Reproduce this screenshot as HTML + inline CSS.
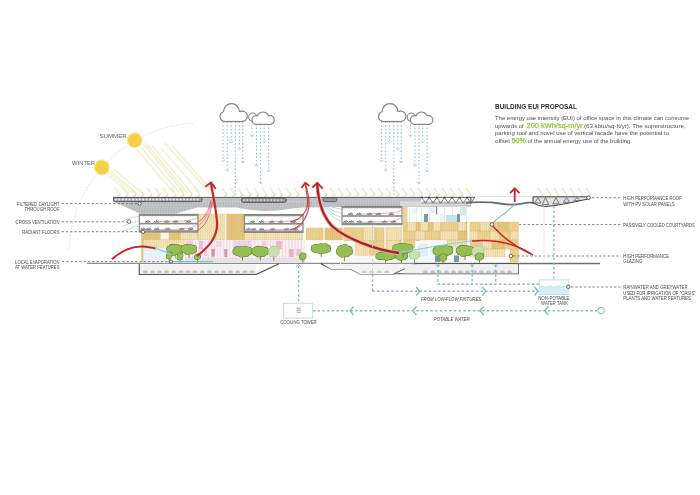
<!DOCTYPE html>
<html><head><meta charset="utf-8"><style>
html,body{margin:0;padding:0;background:#fff;}
svg{display:block;font-family:"Liberation Sans",sans-serif;will-change:transform;}
</style></head><body>
<svg width="700" height="495" viewBox="0 0 700 495">
<rect width="700" height="495" fill="#fff"/>
<path d="M 69 249 A 132 132 0 0 1 193 123.2" fill="none" stroke="#cfcfcf" stroke-width="0.7" stroke-dasharray="1.6 1.6"/>
<line x1="137.1" y1="149.7" x2="173.8" y2="193.0" stroke="#f8f8e8" stroke-width="2.0"/>
<line x1="140.5" y1="147.0" x2="179.5" y2="193.0" stroke="#f8f8e8" stroke-width="2.0"/>
<line x1="143.1" y1="143.7" x2="184.2" y2="193.0" stroke="#f8f8e8" stroke-width="2.0"/>
<line x1="145.9" y1="143.2" x2="187.4" y2="193.0" stroke="#f8f8e8" stroke-width="2.0"/>
<line x1="152.0" y1="146.0" x2="191.8" y2="193.0" stroke="#f8f8e8" stroke-width="2.0"/>
<line x1="161.1" y1="148.0" x2="200.2" y2="193.0" stroke="#f8f8e8" stroke-width="2.0"/>
<line x1="164.6" y1="142.9" x2="210.1" y2="193.0" stroke="#f8f8e8" stroke-width="2.0"/>
<line x1="172.0" y1="146.0" x2="214.0" y2="193.0" stroke="#f8f8e8" stroke-width="2.0"/>
<line x1="105.3" y1="172.9" x2="128.9" y2="193.0" stroke="#f8f8e8" stroke-width="2.0"/>
<line x1="108.0" y1="172.0" x2="132.7" y2="193.0" stroke="#f8f8e8" stroke-width="2.0"/>
<line x1="110.4" y1="171.1" x2="136.2" y2="193.0" stroke="#f8f8e8" stroke-width="2.0"/>
<line x1="113.5" y1="169.0" x2="141.7" y2="193.0" stroke="#f8f8e8" stroke-width="2.0"/>
<line x1="137.1" y1="149.7" x2="173.8" y2="193.0" stroke="#ecedc0" stroke-width="0.8"/>
<line x1="140.5" y1="147.0" x2="179.5" y2="193.0" stroke="#ecedc0" stroke-width="0.8"/>
<line x1="143.1" y1="143.7" x2="184.2" y2="193.0" stroke="#ecedc0" stroke-width="0.8"/>
<line x1="145.9" y1="143.2" x2="187.4" y2="193.0" stroke="#ecedc0" stroke-width="0.8"/>
<line x1="152.0" y1="146.0" x2="191.8" y2="193.0" stroke="#ecedc0" stroke-width="0.8"/>
<line x1="161.1" y1="148.0" x2="200.2" y2="193.0" stroke="#ecedc0" stroke-width="0.8"/>
<line x1="164.6" y1="142.9" x2="210.1" y2="193.0" stroke="#ecedc0" stroke-width="0.8"/>
<line x1="172.0" y1="146.0" x2="214.0" y2="193.0" stroke="#ecedc0" stroke-width="0.8"/>
<line x1="105.3" y1="172.9" x2="128.9" y2="193.0" stroke="#ecedc0" stroke-width="0.8"/>
<line x1="108.0" y1="172.0" x2="132.7" y2="193.0" stroke="#ecedc0" stroke-width="0.8"/>
<line x1="110.4" y1="171.1" x2="136.2" y2="193.0" stroke="#ecedc0" stroke-width="0.8"/>
<line x1="113.5" y1="169.0" x2="141.7" y2="193.0" stroke="#ecedc0" stroke-width="0.8"/>
<circle cx="134.7" cy="140.3" r="8.2" fill="#f9ebb0"/>
<circle cx="101.9" cy="167.4" r="8.2" fill="#f9ebb0"/>
<circle cx="134.7" cy="140.3" r="6.9" fill="#f4cf48"/>
<circle cx="101.9" cy="167.4" r="6.9" fill="#f4cf48"/>
<text x="126.8" y="138.3" font-size="6.1" text-anchor="end" fill="#6a6a6a" font-weight="normal" font-style="normal" textLength="27.4" lengthAdjust="spacingAndGlyphs">SUMMER</text>
<text x="95.1" y="164.5" font-size="6.1" text-anchor="end" fill="#6a6a6a" font-weight="normal" font-style="normal" textLength="23.1" lengthAdjust="spacingAndGlyphs">WINTER</text>
<line x1="223.1" y1="121.5" x2="223.1" y2="161.7" stroke="#90c8d0" stroke-width="1.1" stroke-dasharray="1.6 2.0"/>
<path d="M 221.3 159.9 L 223.1 161.7 L 224.9 159.9" fill="none" stroke="#90c8d0" stroke-width="0.8"/>
<line x1="227.2" y1="121.5" x2="227.2" y2="171.4" stroke="#90c8d0" stroke-width="1.1" stroke-dasharray="1.6 2.0"/>
<path d="M 225.4 169.6 L 227.2 171.4 L 229.0 169.6" fill="none" stroke="#90c8d0" stroke-width="0.8"/>
<line x1="231.2" y1="121.5" x2="231.2" y2="143.0" stroke="#90c8d0" stroke-width="1.1" stroke-dasharray="1.6 2.0"/>
<path d="M 229.4 141.2 L 231.2 143.0 L 233.0 141.2" fill="none" stroke="#90c8d0" stroke-width="0.8"/>
<line x1="235.3" y1="121.5" x2="235.3" y2="196.5" stroke="#90c8d0" stroke-width="1.1" stroke-dasharray="1.6 2.0"/>
<path d="M 233.5 182.0 L 235.3 183.8 L 237.1 182.0" fill="none" stroke="#90c8d0" stroke-width="0.8"/>
<line x1="239.3" y1="121.5" x2="239.3" y2="150.0" stroke="#90c8d0" stroke-width="1.1" stroke-dasharray="1.6 2.0"/>
<path d="M 237.5 148.2 L 239.3 150.0 L 241.1 148.2" fill="none" stroke="#90c8d0" stroke-width="0.8"/>
<line x1="242.7" y1="121.5" x2="242.7" y2="162.7" stroke="#90c8d0" stroke-width="1.1" stroke-dasharray="1.6 2.0"/>
<path d="M 240.9 160.9 L 242.7 162.7 L 244.5 160.9" fill="none" stroke="#90c8d0" stroke-width="0.8"/>
<line x1="252.0" y1="124.0" x2="252.0" y2="136.4" stroke="#90c8d0" stroke-width="1.1" stroke-dasharray="1.6 2.0"/>
<path d="M 250.2 134.6 L 252.0 136.4 L 253.8 134.6" fill="none" stroke="#90c8d0" stroke-width="0.8"/>
<line x1="256.5" y1="124.0" x2="256.5" y2="166.7" stroke="#90c8d0" stroke-width="1.1" stroke-dasharray="1.6 2.0"/>
<path d="M 254.7 164.9 L 256.5 166.7 L 258.3 164.9" fill="none" stroke="#90c8d0" stroke-width="0.8"/>
<line x1="260.5" y1="124.0" x2="260.5" y2="184.0" stroke="#90c8d0" stroke-width="1.1" stroke-dasharray="1.6 2.0"/>
<path d="M 258.7 182.2 L 260.5 184.0 L 262.3 182.2" fill="none" stroke="#90c8d0" stroke-width="0.8"/>
<line x1="264.1" y1="124.0" x2="264.1" y2="142.5" stroke="#90c8d0" stroke-width="1.1" stroke-dasharray="1.6 2.0"/>
<path d="M 262.3 140.7 L 264.1 142.5 L 265.9 140.7" fill="none" stroke="#90c8d0" stroke-width="0.8"/>
<line x1="268.6" y1="124.0" x2="268.6" y2="171.4" stroke="#90c8d0" stroke-width="1.1" stroke-dasharray="1.6 2.0"/>
<path d="M 266.8 169.6 L 268.6 171.4 L 270.4 169.6" fill="none" stroke="#90c8d0" stroke-width="0.8"/>
<line x1="381.6" y1="121.5" x2="381.6" y2="161.7" stroke="#90c8d0" stroke-width="1.1" stroke-dasharray="1.6 2.0"/>
<path d="M 379.8 159.9 L 381.6 161.7 L 383.4 159.9" fill="none" stroke="#90c8d0" stroke-width="0.8"/>
<line x1="385.7" y1="121.5" x2="385.7" y2="171.4" stroke="#90c8d0" stroke-width="1.1" stroke-dasharray="1.6 2.0"/>
<path d="M 383.9 169.6 L 385.7 171.4 L 387.5 169.6" fill="none" stroke="#90c8d0" stroke-width="0.8"/>
<line x1="389.7" y1="121.5" x2="389.7" y2="143.0" stroke="#90c8d0" stroke-width="1.1" stroke-dasharray="1.6 2.0"/>
<path d="M 387.9 141.2 L 389.7 143.0 L 391.5 141.2" fill="none" stroke="#90c8d0" stroke-width="0.8"/>
<line x1="393.8" y1="121.5" x2="393.8" y2="196.5" stroke="#90c8d0" stroke-width="1.1" stroke-dasharray="1.6 2.0"/>
<path d="M 392.0 182.0 L 393.8 183.8 L 395.6 182.0" fill="none" stroke="#90c8d0" stroke-width="0.8"/>
<line x1="397.8" y1="121.5" x2="397.8" y2="150.0" stroke="#90c8d0" stroke-width="1.1" stroke-dasharray="1.6 2.0"/>
<path d="M 396.0 148.2 L 397.8 150.0 L 399.6 148.2" fill="none" stroke="#90c8d0" stroke-width="0.8"/>
<line x1="401.2" y1="121.5" x2="401.2" y2="162.7" stroke="#90c8d0" stroke-width="1.1" stroke-dasharray="1.6 2.0"/>
<path d="M 399.4 160.9 L 401.2 162.7 L 403.0 160.9" fill="none" stroke="#90c8d0" stroke-width="0.8"/>
<line x1="410.5" y1="124.0" x2="410.5" y2="136.4" stroke="#90c8d0" stroke-width="1.1" stroke-dasharray="1.6 2.0"/>
<path d="M 408.7 134.6 L 410.5 136.4 L 412.3 134.6" fill="none" stroke="#90c8d0" stroke-width="0.8"/>
<line x1="415.0" y1="124.0" x2="415.0" y2="166.7" stroke="#90c8d0" stroke-width="1.1" stroke-dasharray="1.6 2.0"/>
<path d="M 413.2 164.9 L 415.0 166.7 L 416.8 164.9" fill="none" stroke="#90c8d0" stroke-width="0.8"/>
<line x1="419.0" y1="124.0" x2="419.0" y2="184.0" stroke="#90c8d0" stroke-width="1.1" stroke-dasharray="1.6 2.0"/>
<path d="M 417.2 182.2 L 419.0 184.0 L 420.8 182.2" fill="none" stroke="#90c8d0" stroke-width="0.8"/>
<line x1="422.6" y1="124.0" x2="422.6" y2="142.5" stroke="#90c8d0" stroke-width="1.1" stroke-dasharray="1.6 2.0"/>
<path d="M 420.8 140.7 L 422.6 142.5 L 424.4 140.7" fill="none" stroke="#90c8d0" stroke-width="0.8"/>
<line x1="427.1" y1="124.0" x2="427.1" y2="171.4" stroke="#90c8d0" stroke-width="1.1" stroke-dasharray="1.6 2.0"/>
<path d="M 425.3 169.6 L 427.1 171.4 L 428.9 169.6" fill="none" stroke="#90c8d0" stroke-width="0.8"/>
<g fill="none" stroke="#858585" stroke-width="2.4"><circle cx="231.5" cy="111.6" r="7.3"/><circle cx="242.3" cy="116.3" r="4.5"/><circle cx="225.0" cy="116.5" r="4.4"/><rect x="225.0" y="112" width="17.3" height="8.9"/></g>
<g fill="#fff"><circle cx="231.5" cy="111.6" r="7.3"/><circle cx="242.3" cy="116.3" r="4.5"/><circle cx="225.0" cy="116.5" r="4.4"/><rect x="225.0" y="112" width="17.3" height="8.9"/></g>
<g fill="none" stroke="#858585" stroke-width="2.2"><circle cx="252.8" cy="117.2" r="3.6"/></g>
<g fill="#fff"><circle cx="252.8" cy="117.2" r="3.6"/></g>
<g fill="none" stroke="#858585" stroke-width="2.4"><circle cx="263.0" cy="118.0" r="5.4"/><circle cx="270.0" cy="120.0" r="3.7"/><circle cx="256.3" cy="120.0" r="3.7"/><rect x="256.3" y="118" width="13.7" height="5.7"/></g>
<g fill="#fff"><circle cx="263.0" cy="118.0" r="5.4"/><circle cx="270.0" cy="120.0" r="3.7"/><circle cx="256.3" cy="120.0" r="3.7"/><rect x="256.3" y="118" width="13.7" height="5.7"/></g>
<g fill="none" stroke="#858585" stroke-width="2.4"><circle cx="390.0" cy="111.6" r="7.3"/><circle cx="400.8" cy="116.3" r="4.5"/><circle cx="383.5" cy="116.5" r="4.4"/><rect x="383.5" y="112" width="17.3" height="8.9"/></g>
<g fill="#fff"><circle cx="390.0" cy="111.6" r="7.3"/><circle cx="400.8" cy="116.3" r="4.5"/><circle cx="383.5" cy="116.5" r="4.4"/><rect x="383.5" y="112" width="17.3" height="8.9"/></g>
<g fill="none" stroke="#858585" stroke-width="2.2"><circle cx="411.3" cy="117.2" r="3.6"/></g>
<g fill="#fff"><circle cx="411.3" cy="117.2" r="3.6"/></g>
<g fill="none" stroke="#858585" stroke-width="2.4"><circle cx="421.5" cy="118.0" r="5.4"/><circle cx="428.5" cy="120.0" r="3.7"/><circle cx="414.8" cy="120.0" r="3.7"/><rect x="414.8" y="118" width="13.7" height="5.7"/></g>
<g fill="#fff"><circle cx="421.5" cy="118.0" r="5.4"/><circle cx="428.5" cy="120.0" r="3.7"/><circle cx="414.8" cy="120.0" r="3.7"/><rect x="414.8" y="118" width="13.7" height="5.7"/></g>
<text x="495.0" y="109.4" font-size="7.0" text-anchor="start" fill="#2e2e2e" font-weight="bold" font-style="normal" textLength="82.0" lengthAdjust="spacingAndGlyphs">BUILDING EUI PROPOSAL</text>
<text x="495.0" y="119.7" font-size="6.1" text-anchor="start" fill="#4f4f4f" font-weight="normal" font-style="normal" textLength="194.0" lengthAdjust="spacingAndGlyphs">The energy use intensity (EUI) of office space in this climate can consume</text>
<text x="495.0" y="128.1" font-size="6.1" text-anchor="start" fill="#4f4f4f" font-weight="normal" font-style="normal" textLength="28.6" lengthAdjust="spacingAndGlyphs">upwards of</text>
<text x="526.5" y="128.1" font-size="6.8" text-anchor="start" fill="#94c93f" font-weight="normal" font-style="normal" textLength="56.2" lengthAdjust="spacingAndGlyphs" stroke="#94c93f" stroke-width="0.25">200 kWh/sq-m/yr</text>
<text x="584.0" y="128.1" font-size="6.1" text-anchor="start" fill="#4f4f4f" font-weight="normal" font-style="normal" textLength="101.6" lengthAdjust="spacingAndGlyphs">(63 kbtu/sq-ft/yr). The superstructure,</text>
<text x="495.0" y="135.1" font-size="6.1" text-anchor="start" fill="#4f4f4f" font-weight="normal" font-style="normal" textLength="174.0" lengthAdjust="spacingAndGlyphs">parking roof  and novel use of vertical facade have the potential to</text>
<text x="495.0" y="143.3" font-size="6.1" text-anchor="start" fill="#4f4f4f" font-weight="normal" font-style="normal" textLength="15.0" lengthAdjust="spacingAndGlyphs">offset</text>
<text x="511.7" y="143.3" font-size="6.8" text-anchor="start" fill="#94c93f" font-weight="normal" font-style="normal" textLength="14.1" lengthAdjust="spacingAndGlyphs" stroke="#94c93f" stroke-width="0.25">50%</text>
<text x="527.5" y="143.3" font-size="6.1" text-anchor="start" fill="#4f4f4f" font-weight="normal" font-style="normal" textLength="104.5" lengthAdjust="spacingAndGlyphs">of the annual energy use of the building.</text>
<line x1="115.0" y1="188.0" x2="120.0" y2="195.0" stroke="#f1eebc" stroke-width="1.4"/>
<line x1="117.5" y1="197.0" x2="120.0" y2="194.5" stroke="#8fb0c8" stroke-width="0.6"/>
<line x1="123.0" y1="188.0" x2="128.0" y2="195.0" stroke="#f1eebc" stroke-width="1.4"/>
<line x1="125.5" y1="197.0" x2="128.0" y2="194.5" stroke="#8fb0c8" stroke-width="0.6"/>
<line x1="131.0" y1="188.0" x2="136.0" y2="195.0" stroke="#f1eebc" stroke-width="1.4"/>
<line x1="133.5" y1="197.0" x2="136.0" y2="194.5" stroke="#8fb0c8" stroke-width="0.6"/>
<line x1="139.0" y1="188.0" x2="144.0" y2="195.0" stroke="#f1eebc" stroke-width="1.4"/>
<line x1="141.5" y1="197.0" x2="144.0" y2="194.5" stroke="#8fb0c8" stroke-width="0.6"/>
<line x1="147.0" y1="188.0" x2="152.0" y2="195.0" stroke="#f1eebc" stroke-width="1.4"/>
<line x1="149.5" y1="197.0" x2="152.0" y2="194.5" stroke="#8fb0c8" stroke-width="0.6"/>
<line x1="155.0" y1="188.0" x2="160.0" y2="195.0" stroke="#f1eebc" stroke-width="1.4"/>
<line x1="157.5" y1="197.0" x2="160.0" y2="194.5" stroke="#8fb0c8" stroke-width="0.6"/>
<line x1="163.0" y1="188.0" x2="168.0" y2="195.0" stroke="#f1eebc" stroke-width="1.4"/>
<line x1="165.5" y1="197.0" x2="168.0" y2="194.5" stroke="#8fb0c8" stroke-width="0.6"/>
<line x1="171.0" y1="188.0" x2="176.0" y2="195.0" stroke="#f1eebc" stroke-width="1.4"/>
<line x1="173.5" y1="197.0" x2="176.0" y2="194.5" stroke="#8fb0c8" stroke-width="0.6"/>
<line x1="179.0" y1="188.0" x2="184.0" y2="195.0" stroke="#f1eebc" stroke-width="1.4"/>
<line x1="181.5" y1="197.0" x2="184.0" y2="194.5" stroke="#8fb0c8" stroke-width="0.6"/>
<line x1="187.0" y1="188.0" x2="192.0" y2="195.0" stroke="#f1eebc" stroke-width="1.4"/>
<line x1="189.5" y1="197.0" x2="192.0" y2="194.5" stroke="#8fb0c8" stroke-width="0.6"/>
<line x1="195.0" y1="188.0" x2="200.0" y2="195.0" stroke="#f1eebc" stroke-width="1.4"/>
<line x1="197.5" y1="197.0" x2="200.0" y2="194.5" stroke="#8fb0c8" stroke-width="0.6"/>
<line x1="222.0" y1="188.0" x2="227.0" y2="195.0" stroke="#f1eebc" stroke-width="1.4"/>
<line x1="224.5" y1="197.0" x2="227.0" y2="194.5" stroke="#8fb0c8" stroke-width="0.6"/>
<line x1="230.0" y1="188.0" x2="235.0" y2="195.0" stroke="#f1eebc" stroke-width="1.4"/>
<line x1="232.5" y1="197.0" x2="235.0" y2="194.5" stroke="#8fb0c8" stroke-width="0.6"/>
<line x1="238.0" y1="188.0" x2="243.0" y2="195.0" stroke="#f1eebc" stroke-width="1.4"/>
<line x1="240.5" y1="197.0" x2="243.0" y2="194.5" stroke="#8fb0c8" stroke-width="0.6"/>
<line x1="246.0" y1="188.0" x2="251.0" y2="195.0" stroke="#f1eebc" stroke-width="1.4"/>
<line x1="248.5" y1="197.0" x2="251.0" y2="194.5" stroke="#8fb0c8" stroke-width="0.6"/>
<line x1="254.0" y1="188.0" x2="259.0" y2="195.0" stroke="#f1eebc" stroke-width="1.4"/>
<line x1="256.5" y1="197.0" x2="259.0" y2="194.5" stroke="#8fb0c8" stroke-width="0.6"/>
<line x1="262.0" y1="188.0" x2="267.0" y2="195.0" stroke="#f1eebc" stroke-width="1.4"/>
<line x1="264.5" y1="197.0" x2="267.0" y2="194.5" stroke="#8fb0c8" stroke-width="0.6"/>
<line x1="270.0" y1="188.0" x2="275.0" y2="195.0" stroke="#f1eebc" stroke-width="1.4"/>
<line x1="272.5" y1="197.0" x2="275.0" y2="194.5" stroke="#8fb0c8" stroke-width="0.6"/>
<line x1="278.0" y1="188.0" x2="283.0" y2="195.0" stroke="#f1eebc" stroke-width="1.4"/>
<line x1="280.5" y1="197.0" x2="283.0" y2="194.5" stroke="#8fb0c8" stroke-width="0.6"/>
<line x1="286.0" y1="188.0" x2="291.0" y2="195.0" stroke="#f1eebc" stroke-width="1.4"/>
<line x1="288.5" y1="197.0" x2="291.0" y2="194.5" stroke="#8fb0c8" stroke-width="0.6"/>
<line x1="294.0" y1="188.0" x2="299.0" y2="195.0" stroke="#f1eebc" stroke-width="1.4"/>
<line x1="296.5" y1="197.0" x2="299.0" y2="194.5" stroke="#8fb0c8" stroke-width="0.6"/>
<line x1="322.0" y1="188.0" x2="327.0" y2="195.0" stroke="#f1eebc" stroke-width="1.4"/>
<line x1="324.5" y1="197.0" x2="327.0" y2="194.5" stroke="#8fb0c8" stroke-width="0.6"/>
<line x1="330.0" y1="188.0" x2="335.0" y2="195.0" stroke="#f1eebc" stroke-width="1.4"/>
<line x1="332.5" y1="197.0" x2="335.0" y2="194.5" stroke="#8fb0c8" stroke-width="0.6"/>
<line x1="338.0" y1="188.0" x2="343.0" y2="195.0" stroke="#f1eebc" stroke-width="1.4"/>
<line x1="340.5" y1="197.0" x2="343.0" y2="194.5" stroke="#8fb0c8" stroke-width="0.6"/>
<line x1="346.0" y1="188.0" x2="351.0" y2="195.0" stroke="#f1eebc" stroke-width="1.4"/>
<line x1="348.5" y1="197.0" x2="351.0" y2="194.5" stroke="#8fb0c8" stroke-width="0.6"/>
<line x1="354.0" y1="188.0" x2="359.0" y2="195.0" stroke="#f1eebc" stroke-width="1.4"/>
<line x1="356.5" y1="197.0" x2="359.0" y2="194.5" stroke="#8fb0c8" stroke-width="0.6"/>
<line x1="362.0" y1="188.0" x2="367.0" y2="195.0" stroke="#f1eebc" stroke-width="1.4"/>
<line x1="364.5" y1="197.0" x2="367.0" y2="194.5" stroke="#8fb0c8" stroke-width="0.6"/>
<line x1="370.0" y1="188.0" x2="375.0" y2="195.0" stroke="#f1eebc" stroke-width="1.4"/>
<line x1="372.5" y1="197.0" x2="375.0" y2="194.5" stroke="#8fb0c8" stroke-width="0.6"/>
<line x1="378.0" y1="188.0" x2="383.0" y2="195.0" stroke="#f1eebc" stroke-width="1.4"/>
<line x1="380.5" y1="197.0" x2="383.0" y2="194.5" stroke="#8fb0c8" stroke-width="0.6"/>
<line x1="386.0" y1="188.0" x2="391.0" y2="195.0" stroke="#f1eebc" stroke-width="1.4"/>
<line x1="388.5" y1="197.0" x2="391.0" y2="194.5" stroke="#8fb0c8" stroke-width="0.6"/>
<line x1="394.0" y1="188.0" x2="399.0" y2="195.0" stroke="#f1eebc" stroke-width="1.4"/>
<line x1="396.5" y1="197.0" x2="399.0" y2="194.5" stroke="#8fb0c8" stroke-width="0.6"/>
<line x1="402.0" y1="188.0" x2="407.0" y2="195.0" stroke="#f1eebc" stroke-width="1.4"/>
<line x1="404.5" y1="197.0" x2="407.0" y2="194.5" stroke="#8fb0c8" stroke-width="0.6"/>
<line x1="410.0" y1="188.0" x2="415.0" y2="195.0" stroke="#f1eebc" stroke-width="1.4"/>
<line x1="412.5" y1="197.0" x2="415.0" y2="194.5" stroke="#8fb0c8" stroke-width="0.6"/>
<line x1="418.0" y1="188.0" x2="423.0" y2="195.0" stroke="#f1eebc" stroke-width="1.4"/>
<line x1="420.5" y1="197.0" x2="423.0" y2="194.5" stroke="#8fb0c8" stroke-width="0.6"/>
<line x1="426.0" y1="188.0" x2="431.0" y2="195.0" stroke="#f1eebc" stroke-width="1.4"/>
<line x1="428.5" y1="197.0" x2="431.0" y2="194.5" stroke="#8fb0c8" stroke-width="0.6"/>
<line x1="434.0" y1="188.0" x2="439.0" y2="195.0" stroke="#f1eebc" stroke-width="1.4"/>
<line x1="436.5" y1="197.0" x2="439.0" y2="194.5" stroke="#8fb0c8" stroke-width="0.6"/>
<line x1="442.0" y1="188.0" x2="447.0" y2="195.0" stroke="#f1eebc" stroke-width="1.4"/>
<line x1="444.5" y1="197.0" x2="447.0" y2="194.5" stroke="#8fb0c8" stroke-width="0.6"/>
<line x1="450.0" y1="188.0" x2="455.0" y2="195.0" stroke="#f1eebc" stroke-width="1.4"/>
<line x1="452.5" y1="197.0" x2="455.0" y2="194.5" stroke="#8fb0c8" stroke-width="0.6"/>
<line x1="458.0" y1="188.0" x2="463.0" y2="195.0" stroke="#f1eebc" stroke-width="1.4"/>
<line x1="460.5" y1="197.0" x2="463.0" y2="194.5" stroke="#8fb0c8" stroke-width="0.6"/>
<line x1="466.0" y1="188.0" x2="471.0" y2="195.0" stroke="#f1eebc" stroke-width="1.4"/>
<line x1="468.5" y1="197.0" x2="471.0" y2="194.5" stroke="#8fb0c8" stroke-width="0.6"/>
<line x1="538.0" y1="188.0" x2="543.0" y2="195.0" stroke="#f1eebc" stroke-width="1.4"/>
<line x1="540.5" y1="197.0" x2="543.0" y2="194.5" stroke="#8fb0c8" stroke-width="0.6"/>
<line x1="546.0" y1="188.0" x2="551.0" y2="195.0" stroke="#f1eebc" stroke-width="1.4"/>
<line x1="548.5" y1="197.0" x2="551.0" y2="194.5" stroke="#8fb0c8" stroke-width="0.6"/>
<line x1="554.0" y1="188.0" x2="559.0" y2="195.0" stroke="#f1eebc" stroke-width="1.4"/>
<line x1="556.5" y1="197.0" x2="559.0" y2="194.5" stroke="#8fb0c8" stroke-width="0.6"/>
<line x1="562.0" y1="188.0" x2="567.0" y2="195.0" stroke="#f1eebc" stroke-width="1.4"/>
<line x1="564.5" y1="197.0" x2="567.0" y2="194.5" stroke="#8fb0c8" stroke-width="0.6"/>
<line x1="570.0" y1="188.0" x2="575.0" y2="195.0" stroke="#f1eebc" stroke-width="1.4"/>
<line x1="572.5" y1="197.0" x2="575.0" y2="194.5" stroke="#8fb0c8" stroke-width="0.6"/>
<line x1="578.0" y1="188.0" x2="583.0" y2="195.0" stroke="#f1eebc" stroke-width="1.4"/>
<line x1="580.5" y1="197.0" x2="583.0" y2="194.5" stroke="#8fb0c8" stroke-width="0.6"/>
<line x1="586.0" y1="188.0" x2="591.0" y2="195.0" stroke="#f1eebc" stroke-width="1.4"/>
<line x1="588.5" y1="197.0" x2="591.0" y2="194.5" stroke="#8fb0c8" stroke-width="0.6"/>
<clipPath id="meshclip"><path d="M 113 201.3 L 140 213.5 L 176 213.5 L 197 207.5 L 236 207.5 C 245 209, 255 211, 268 211 C 280 211, 290 208, 305 207.5 L 342 206.8 L 421 206.8 L 421 201.3 Z"/></clipPath>
<path d="M 113 201.3 L 140 213.5 L 176 213.5 L 197 207.5 L 236 207.5 C 245 209, 255 211, 268 211 C 280 211, 290 208, 305 207.5 L 342 206.8 L 421 206.8 L 421 201.3 Z" fill="#ccd0d2"/>
<g clip-path="url(#meshclip)" stroke="#9c9c9c" stroke-width="0.5"><line x1="113.0" y1="201" x2="114.5" y2="215"/><line x1="114.6" y1="201" x2="116.1" y2="215"/><line x1="116.2" y1="201" x2="117.7" y2="215"/><line x1="117.8" y1="201" x2="119.3" y2="215"/><line x1="119.4" y1="201" x2="120.9" y2="215"/><line x1="121.0" y1="201" x2="122.5" y2="215"/><line x1="122.6" y1="201" x2="124.1" y2="215"/><line x1="124.2" y1="201" x2="125.7" y2="215"/><line x1="125.8" y1="201" x2="127.3" y2="215"/><line x1="127.4" y1="201" x2="128.9" y2="215"/><line x1="129.0" y1="201" x2="130.5" y2="215"/><line x1="130.6" y1="201" x2="132.1" y2="215"/><line x1="132.2" y1="201" x2="133.7" y2="215"/><line x1="133.8" y1="201" x2="135.3" y2="215"/><line x1="135.4" y1="201" x2="136.9" y2="215"/><line x1="137.0" y1="201" x2="138.5" y2="215"/><line x1="138.6" y1="201" x2="140.1" y2="215"/><line x1="140.2" y1="201" x2="141.7" y2="215"/><line x1="141.8" y1="201" x2="143.3" y2="215"/><line x1="143.4" y1="201" x2="144.9" y2="215"/><line x1="145.0" y1="201" x2="146.5" y2="215"/><line x1="146.6" y1="201" x2="148.1" y2="215"/><line x1="148.2" y1="201" x2="149.7" y2="215"/><line x1="149.8" y1="201" x2="151.3" y2="215"/><line x1="151.4" y1="201" x2="152.9" y2="215"/><line x1="153.0" y1="201" x2="154.5" y2="215"/><line x1="154.6" y1="201" x2="156.1" y2="215"/><line x1="156.2" y1="201" x2="157.7" y2="215"/><line x1="157.8" y1="201" x2="159.3" y2="215"/><line x1="159.4" y1="201" x2="160.9" y2="215"/><line x1="161.0" y1="201" x2="162.5" y2="215"/><line x1="162.6" y1="201" x2="164.1" y2="215"/><line x1="164.2" y1="201" x2="165.7" y2="215"/><line x1="165.8" y1="201" x2="167.3" y2="215"/><line x1="167.4" y1="201" x2="168.9" y2="215"/><line x1="169.0" y1="201" x2="170.5" y2="215"/><line x1="170.6" y1="201" x2="172.1" y2="215"/><line x1="172.2" y1="201" x2="173.7" y2="215"/><line x1="173.8" y1="201" x2="175.3" y2="215"/><line x1="175.4" y1="201" x2="176.9" y2="215"/><line x1="177.0" y1="201" x2="178.5" y2="215"/><line x1="178.6" y1="201" x2="180.1" y2="215"/><line x1="180.2" y1="201" x2="181.7" y2="215"/><line x1="181.8" y1="201" x2="183.3" y2="215"/><line x1="183.4" y1="201" x2="184.9" y2="215"/><line x1="185.0" y1="201" x2="186.5" y2="215"/><line x1="186.6" y1="201" x2="188.1" y2="215"/><line x1="188.2" y1="201" x2="189.7" y2="215"/><line x1="189.8" y1="201" x2="191.3" y2="215"/><line x1="191.4" y1="201" x2="192.9" y2="215"/><line x1="193.0" y1="201" x2="194.5" y2="215"/><line x1="194.6" y1="201" x2="196.1" y2="215"/><line x1="196.2" y1="201" x2="197.7" y2="215"/><line x1="197.8" y1="201" x2="199.3" y2="215"/><line x1="199.4" y1="201" x2="200.9" y2="215"/><line x1="201.0" y1="201" x2="202.5" y2="215"/><line x1="202.6" y1="201" x2="204.1" y2="215"/><line x1="204.2" y1="201" x2="205.7" y2="215"/><line x1="205.8" y1="201" x2="207.3" y2="215"/><line x1="207.4" y1="201" x2="208.9" y2="215"/><line x1="209.0" y1="201" x2="210.5" y2="215"/><line x1="210.6" y1="201" x2="212.1" y2="215"/><line x1="212.2" y1="201" x2="213.7" y2="215"/><line x1="213.8" y1="201" x2="215.3" y2="215"/><line x1="215.4" y1="201" x2="216.9" y2="215"/><line x1="217.0" y1="201" x2="218.5" y2="215"/><line x1="218.6" y1="201" x2="220.1" y2="215"/><line x1="220.2" y1="201" x2="221.7" y2="215"/><line x1="221.8" y1="201" x2="223.3" y2="215"/><line x1="223.4" y1="201" x2="224.9" y2="215"/><line x1="225.0" y1="201" x2="226.5" y2="215"/><line x1="226.6" y1="201" x2="228.1" y2="215"/><line x1="228.2" y1="201" x2="229.7" y2="215"/><line x1="229.8" y1="201" x2="231.3" y2="215"/><line x1="231.4" y1="201" x2="232.9" y2="215"/><line x1="233.0" y1="201" x2="234.5" y2="215"/><line x1="234.6" y1="201" x2="236.1" y2="215"/><line x1="236.2" y1="201" x2="237.7" y2="215"/><line x1="237.8" y1="201" x2="239.3" y2="215"/><line x1="239.4" y1="201" x2="240.9" y2="215"/><line x1="241.0" y1="201" x2="242.5" y2="215"/><line x1="242.6" y1="201" x2="244.1" y2="215"/><line x1="244.2" y1="201" x2="245.7" y2="215"/><line x1="245.8" y1="201" x2="247.3" y2="215"/><line x1="247.4" y1="201" x2="248.9" y2="215"/><line x1="249.0" y1="201" x2="250.5" y2="215"/><line x1="250.6" y1="201" x2="252.1" y2="215"/><line x1="252.2" y1="201" x2="253.7" y2="215"/><line x1="253.8" y1="201" x2="255.3" y2="215"/><line x1="255.4" y1="201" x2="256.9" y2="215"/><line x1="257.0" y1="201" x2="258.5" y2="215"/><line x1="258.6" y1="201" x2="260.1" y2="215"/><line x1="260.2" y1="201" x2="261.7" y2="215"/><line x1="261.8" y1="201" x2="263.3" y2="215"/><line x1="263.4" y1="201" x2="264.9" y2="215"/><line x1="265.0" y1="201" x2="266.5" y2="215"/><line x1="266.6" y1="201" x2="268.1" y2="215"/><line x1="268.2" y1="201" x2="269.7" y2="215"/><line x1="269.8" y1="201" x2="271.3" y2="215"/><line x1="271.4" y1="201" x2="272.9" y2="215"/><line x1="273.0" y1="201" x2="274.5" y2="215"/><line x1="274.6" y1="201" x2="276.1" y2="215"/><line x1="276.2" y1="201" x2="277.7" y2="215"/><line x1="277.8" y1="201" x2="279.3" y2="215"/><line x1="279.4" y1="201" x2="280.9" y2="215"/><line x1="281.0" y1="201" x2="282.5" y2="215"/><line x1="282.6" y1="201" x2="284.1" y2="215"/><line x1="284.2" y1="201" x2="285.7" y2="215"/><line x1="285.8" y1="201" x2="287.3" y2="215"/><line x1="287.4" y1="201" x2="288.9" y2="215"/><line x1="289.0" y1="201" x2="290.5" y2="215"/><line x1="290.6" y1="201" x2="292.1" y2="215"/><line x1="292.2" y1="201" x2="293.7" y2="215"/><line x1="293.8" y1="201" x2="295.3" y2="215"/><line x1="295.4" y1="201" x2="296.9" y2="215"/><line x1="297.0" y1="201" x2="298.5" y2="215"/><line x1="298.6" y1="201" x2="300.1" y2="215"/><line x1="300.2" y1="201" x2="301.7" y2="215"/><line x1="301.8" y1="201" x2="303.3" y2="215"/><line x1="303.4" y1="201" x2="304.9" y2="215"/><line x1="305.0" y1="201" x2="306.5" y2="215"/><line x1="306.6" y1="201" x2="308.1" y2="215"/><line x1="308.2" y1="201" x2="309.7" y2="215"/><line x1="309.8" y1="201" x2="311.3" y2="215"/><line x1="311.4" y1="201" x2="312.9" y2="215"/><line x1="313.0" y1="201" x2="314.5" y2="215"/><line x1="314.6" y1="201" x2="316.1" y2="215"/><line x1="316.2" y1="201" x2="317.7" y2="215"/><line x1="317.8" y1="201" x2="319.3" y2="215"/><line x1="319.4" y1="201" x2="320.9" y2="215"/><line x1="321.0" y1="201" x2="322.5" y2="215"/><line x1="322.6" y1="201" x2="324.1" y2="215"/><line x1="324.2" y1="201" x2="325.7" y2="215"/><line x1="325.8" y1="201" x2="327.3" y2="215"/><line x1="327.4" y1="201" x2="328.9" y2="215"/><line x1="329.0" y1="201" x2="330.5" y2="215"/><line x1="330.6" y1="201" x2="332.1" y2="215"/><line x1="332.2" y1="201" x2="333.7" y2="215"/><line x1="333.8" y1="201" x2="335.3" y2="215"/><line x1="335.4" y1="201" x2="336.9" y2="215"/><line x1="337.0" y1="201" x2="338.5" y2="215"/><line x1="338.6" y1="201" x2="340.1" y2="215"/><line x1="340.2" y1="201" x2="341.7" y2="215"/><line x1="341.8" y1="201" x2="343.3" y2="215"/><line x1="343.4" y1="201" x2="344.9" y2="215"/><line x1="345.0" y1="201" x2="346.5" y2="215"/><line x1="346.6" y1="201" x2="348.1" y2="215"/><line x1="348.2" y1="201" x2="349.7" y2="215"/><line x1="349.8" y1="201" x2="351.3" y2="215"/><line x1="351.4" y1="201" x2="352.9" y2="215"/><line x1="353.0" y1="201" x2="354.5" y2="215"/><line x1="354.6" y1="201" x2="356.1" y2="215"/><line x1="356.2" y1="201" x2="357.7" y2="215"/><line x1="357.8" y1="201" x2="359.3" y2="215"/><line x1="359.4" y1="201" x2="360.9" y2="215"/><line x1="361.0" y1="201" x2="362.5" y2="215"/><line x1="362.6" y1="201" x2="364.1" y2="215"/><line x1="364.2" y1="201" x2="365.7" y2="215"/><line x1="365.8" y1="201" x2="367.3" y2="215"/><line x1="367.4" y1="201" x2="368.9" y2="215"/><line x1="369.0" y1="201" x2="370.5" y2="215"/><line x1="370.6" y1="201" x2="372.1" y2="215"/><line x1="372.2" y1="201" x2="373.7" y2="215"/><line x1="373.8" y1="201" x2="375.3" y2="215"/><line x1="375.4" y1="201" x2="376.9" y2="215"/><line x1="377.0" y1="201" x2="378.5" y2="215"/><line x1="378.6" y1="201" x2="380.1" y2="215"/><line x1="380.2" y1="201" x2="381.7" y2="215"/><line x1="381.8" y1="201" x2="383.3" y2="215"/><line x1="383.4" y1="201" x2="384.9" y2="215"/><line x1="385.0" y1="201" x2="386.5" y2="215"/><line x1="386.6" y1="201" x2="388.1" y2="215"/><line x1="388.2" y1="201" x2="389.7" y2="215"/><line x1="389.8" y1="201" x2="391.3" y2="215"/><line x1="391.4" y1="201" x2="392.9" y2="215"/><line x1="393.0" y1="201" x2="394.5" y2="215"/><line x1="394.6" y1="201" x2="396.1" y2="215"/><line x1="396.2" y1="201" x2="397.7" y2="215"/><line x1="397.8" y1="201" x2="399.3" y2="215"/><line x1="399.4" y1="201" x2="400.9" y2="215"/><line x1="401.0" y1="201" x2="402.5" y2="215"/><line x1="402.6" y1="201" x2="404.1" y2="215"/><line x1="404.2" y1="201" x2="405.7" y2="215"/><line x1="405.8" y1="201" x2="407.3" y2="215"/><line x1="407.4" y1="201" x2="408.9" y2="215"/><line x1="409.0" y1="201" x2="410.5" y2="215"/><line x1="410.6" y1="201" x2="412.1" y2="215"/><line x1="412.2" y1="201" x2="413.7" y2="215"/><line x1="413.8" y1="201" x2="415.3" y2="215"/><line x1="415.4" y1="201" x2="416.9" y2="215"/><line x1="417.0" y1="201" x2="418.5" y2="215"/><line x1="418.6" y1="201" x2="420.1" y2="215"/><line x1="420.2" y1="201" x2="421.7" y2="215"/><line x1="421.8" y1="201" x2="423.3" y2="215"/><line x1="423.4" y1="201" x2="424.9" y2="215"/></g>
<rect x="113.0" y="197.2" width="308.0" height="4.0" fill="#c2c2c2"/>
<line x1="113.0" y1="197.4" x2="475.0" y2="197.4" stroke="#4f4f4f" stroke-width="0.9"/>
<rect x="113.5" y="197.6" width="88.5" height="3.8" rx="1.2" fill="#a4a4a4" stroke="#4a4a4a" stroke-width="0.9"/>
<g fill="#f4f4f4"><rect x="115.1" y="198.6" width="1.8" height="1.8"/><rect x="118.5" y="198.6" width="1.8" height="1.8"/><rect x="121.9" y="198.6" width="1.8" height="1.8"/><rect x="125.3" y="198.6" width="1.8" height="1.8"/><rect x="128.7" y="198.6" width="1.8" height="1.8"/><rect x="132.1" y="198.6" width="1.8" height="1.8"/><rect x="135.5" y="198.6" width="1.8" height="1.8"/><rect x="138.9" y="198.6" width="1.8" height="1.8"/><rect x="142.3" y="198.6" width="1.8" height="1.8"/><rect x="145.7" y="198.6" width="1.8" height="1.8"/><rect x="149.1" y="198.6" width="1.8" height="1.8"/><rect x="152.5" y="198.6" width="1.8" height="1.8"/><rect x="155.9" y="198.6" width="1.8" height="1.8"/><rect x="159.3" y="198.6" width="1.8" height="1.8"/><rect x="162.7" y="198.6" width="1.8" height="1.8"/><rect x="166.1" y="198.6" width="1.8" height="1.8"/><rect x="169.5" y="198.6" width="1.8" height="1.8"/><rect x="172.9" y="198.6" width="1.8" height="1.8"/><rect x="176.3" y="198.6" width="1.8" height="1.8"/><rect x="179.7" y="198.6" width="1.8" height="1.8"/><rect x="183.1" y="198.6" width="1.8" height="1.8"/><rect x="186.5" y="198.6" width="1.8" height="1.8"/><rect x="189.9" y="198.6" width="1.8" height="1.8"/><rect x="193.3" y="198.6" width="1.8" height="1.8"/><rect x="196.7" y="198.6" width="1.8" height="1.8"/></g>
<rect x="241.4" y="197.9" width="45" height="4.4" rx="2.1" fill="#9a9a9a" stroke="#4a4a4a" stroke-width="0.9"/>
<g fill="#eee"><circle cx="244.0" cy="200.1" r="0.8"/><circle cx="247.4" cy="200.1" r="0.8"/><circle cx="250.8" cy="200.1" r="0.8"/><circle cx="254.2" cy="200.1" r="0.8"/><circle cx="257.6" cy="200.1" r="0.8"/><circle cx="261.0" cy="200.1" r="0.8"/><circle cx="264.4" cy="200.1" r="0.8"/><circle cx="267.8" cy="200.1" r="0.8"/><circle cx="271.2" cy="200.1" r="0.8"/><circle cx="274.6" cy="200.1" r="0.8"/><circle cx="278.0" cy="200.1" r="0.8"/><circle cx="281.4" cy="200.1" r="0.8"/></g>
<rect x="323" y="197.8" width="14" height="3.8" rx="1.8" fill="#9a9a9a" stroke="#4a4a4a" stroke-width="0.8"/>
<path d="M 400 201.3 L 471 201.3 L 471 206.2 C 455 206.8, 430 206.5, 400 206.8 Z" fill="#d9d9d9"/>
<path d="M 342 206.8 C 380 206.6, 430 206.9, 471 206.0" fill="none" stroke="#8a8a8a" stroke-width="0.8"/>
<path d="M 421.7 197.4 L 425.48 203.1 L 429.27 197.4 L 433.05 203.1 L 436.84 197.4 L 440.62 203.1 L 444.41 197.4 L 448.19 203.1 L 451.98 197.4 L 455.76 203.1 L 459.55 197.4 L 463.33 203.1 L 467.12 197.4 L 470.90 203.1 L 474.68 197.4" fill="none" stroke="#555" stroke-width="0.75"/>
<line x1="421.7" y1="203.1" x2="470.9" y2="203.1" stroke="#777" stroke-width="0.6"/>
<g fill="#333"><rect x="420.90" y="196.8" width="1.6" height="1.4"/><rect x="428.47" y="196.8" width="1.6" height="1.4"/><rect x="436.04" y="196.8" width="1.6" height="1.4"/><rect x="443.61" y="196.8" width="1.6" height="1.4"/><rect x="451.18" y="196.8" width="1.6" height="1.4"/><rect x="458.75" y="196.8" width="1.6" height="1.4"/><rect x="466.32" y="196.8" width="1.6" height="1.4"/></g>
<line x1="470.9" y1="197.2" x2="470.9" y2="203.5" stroke="#444" stroke-width="1.0"/>
<line x1="470.0" y1="196.6" x2="533.0" y2="196.6" stroke="#d6d6d6" stroke-width="0.7"/>
<path d="M 466 202.6 C 478 201.8, 490 201.8, 500 203.5 S 515 205.2, 522 203.6 S 532 202.5, 540 204.6" fill="none" stroke="#6c6c6c" stroke-width="1.8"/>
<path d="M 533 196.8 L 589.5 196.8 Q 590 198.5 587 199.2 C 570 203, 555 206, 545 206.5 Q 538 206.3 533 202.6 Z" fill="#e2e2e2" stroke="#3f3f3f" stroke-width="1.0"/>
<g fill="none" stroke="#555" stroke-width="0.7"><path d="M 534.8 203.0 L 538.0 197.6 L 541.2 203.0 Z"/><path d="M 542.3 204.5 L 545.5 197.6 L 548.7 204.5 Z"/><path d="M 552.8 203.8 L 556.0 197.6 L 559.2 203.8 Z"/><path d="M 563.3 202.3 L 566.5 197.6 L 569.7 202.3 Z"/><path d="M 573.8 200.6 L 577.0 197.6 L 580.2 200.6 Z"/></g>
<circle cx="588.5" cy="197.7" r="1.8" fill="#fff" stroke="#444" stroke-width="0.9"/>
<pattern id="slat" width="2.2" height="20" patternUnits="userSpaceOnUse"><rect x="0" y="0" width="0.55" height="20" fill="#c9a95f" opacity="0.35"/></pattern>
<rect x="141.5" y="232.0" width="2.0" height="30.0" fill="#e5c47c"/>
<rect x="143.5" y="232.5" width="17.0" height="7.3" fill="#e5c47c"/>
<rect x="160.5" y="232.5" width="8.5" height="7.3" fill="#faf3e2"/>
<rect x="169.0" y="232.5" width="11.5" height="7.3" fill="#e5c47c"/>
<rect x="180.5" y="232.5" width="17.5" height="7.3" fill="#f4e3b8"/>
<rect x="143.5" y="239.8" width="41.5" height="8.7" fill="#f4e3b8"/>
<rect x="198.0" y="214.0" width="26.3" height="26.0" fill="#f4e3b8"/>
<rect x="224.3" y="214.0" width="2.3" height="26.0" fill="#faf3e2"/>
<rect x="226.6" y="214.0" width="17.7" height="26.0" fill="#e5c47c"/>
<rect x="244.0" y="232.5" width="59.0" height="7.5" fill="#f4e3b8"/>
<rect x="306.0" y="228.0" width="17.0" height="12.0" fill="#edd28f"/>
<rect x="323.0" y="228.0" width="2.0" height="12.0" fill="#faf3e2"/>
<rect x="325.0" y="228.0" width="18.0" height="12.0" fill="#e5c47c"/>
<rect x="343.0" y="227.7" width="20.0" height="13.0" fill="#edd28f"/>
<rect x="363.0" y="227.7" width="12.0" height="13.0" fill="#f4e3b8"/>
<rect x="375.0" y="227.7" width="9.0" height="13.0" fill="#edd28f"/>
<rect x="384.0" y="227.7" width="2.0" height="30.0" fill="#faf3e2"/>
<rect x="386.0" y="227.7" width="16.0" height="13.0" fill="#f4e3b8"/>
<rect x="355.0" y="240.7" width="15.0" height="15.0" fill="#f4e3b8"/>
<rect x="370.0" y="240.7" width="14.0" height="15.0" fill="#edd28f"/>
<rect x="386.0" y="240.7" width="14.0" height="13.0" fill="#f4e3b8"/>
<rect x="400.0" y="240.0" width="20.0" height="8.0" fill="#edd28f"/>
<rect x="402.0" y="222.0" width="5.0" height="9.0" fill="#edd28f"/>
<rect x="407.0" y="222.0" width="9.0" height="9.0" fill="#f4e3b8"/>
<rect x="416.0" y="222.0" width="4.0" height="9.0" fill="#e5c47c"/>
<rect x="420.0" y="222.0" width="8.0" height="9.0" fill="#f4e3b8"/>
<rect x="428.0" y="222.0" width="5.0" height="9.0" fill="#e5c47c"/>
<rect x="433.0" y="222.0" width="8.0" height="9.0" fill="#f4e3b8"/>
<rect x="441.0" y="222.0" width="17.0" height="9.0" fill="#edd28f"/>
<rect x="458.0" y="222.0" width="8.0" height="9.0" fill="#f4e3b8"/>
<rect x="466.0" y="222.0" width="1.5" height="9.0" fill="#e5c47c"/>
<rect x="402.0" y="231.0" width="13.0" height="9.0" fill="#edd28f"/>
<rect x="415.0" y="231.0" width="10.0" height="9.0" fill="#f4e3b8"/>
<rect x="425.0" y="231.0" width="15.0" height="9.0" fill="#edd28f"/>
<rect x="440.0" y="231.0" width="18.0" height="9.0" fill="#f4e3b8"/>
<rect x="458.0" y="231.0" width="9.5" height="9.0" fill="#e5c47c"/>
<rect x="447.0" y="240.0" width="20.0" height="7.0" fill="#f4e3b8"/>
<rect x="469.5" y="222.0" width="10.5" height="9.0" fill="#edd28f"/>
<rect x="480.0" y="222.0" width="10.0" height="9.0" fill="#f4e3b8"/>
<rect x="490.0" y="222.0" width="8.0" height="9.0" fill="#edd28f"/>
<rect x="498.0" y="222.0" width="10.0" height="9.0" fill="#e5c47c"/>
<rect x="508.0" y="222.0" width="10.5" height="9.0" fill="#edd28f"/>
<rect x="469.5" y="231.0" width="8.5" height="9.0" fill="#f4e3b8"/>
<rect x="478.0" y="231.0" width="12.0" height="9.0" fill="#edd28f"/>
<rect x="490.0" y="231.0" width="10.0" height="9.0" fill="#f4e3b8"/>
<rect x="500.0" y="231.0" width="10.0" height="9.0" fill="#edd28f"/>
<rect x="510.0" y="231.0" width="8.5" height="9.0" fill="#f4e3b8"/>
<rect x="469.5" y="240.0" width="12.5" height="9.0" fill="#edd28f"/>
<rect x="482.0" y="240.0" width="10.0" height="9.0" fill="#f4e3b8"/>
<rect x="492.0" y="240.0" width="12.0" height="9.0" fill="#e5c47c"/>
<rect x="504.0" y="240.0" width="14.5" height="9.0" fill="#edd28f"/>
<rect x="469.5" y="249.0" width="35.5" height="8.0" fill="#f4e3b8"/>
<rect x="510.0" y="249.0" width="8.5" height="13.0" fill="#edd28f"/>
<rect x="141.5" y="232" width="2" height="30" fill="url(#slat)" stroke="#d8bb78" stroke-width="0.35"/>
<rect x="143.5" y="232.5" width="17" height="7.3" fill="url(#slat)" stroke="#d8bb78" stroke-width="0.35"/>
<rect x="169" y="232.5" width="11.5" height="7.3" fill="url(#slat)" stroke="#d8bb78" stroke-width="0.35"/>
<rect x="180.5" y="232.5" width="17.5" height="7.3" fill="url(#slat)" stroke="#d8bb78" stroke-width="0.35"/>
<rect x="143.5" y="239.8" width="41.5" height="8.7" fill="url(#slat)" stroke="#d8bb78" stroke-width="0.35"/>
<rect x="198" y="214" width="26.3" height="26" fill="url(#slat)" stroke="#d8bb78" stroke-width="0.35"/>
<rect x="226.6" y="214" width="17.7" height="26" fill="url(#slat)" stroke="#d8bb78" stroke-width="0.35"/>
<rect x="244" y="232.5" width="59" height="7.5" fill="url(#slat)" stroke="#d8bb78" stroke-width="0.35"/>
<rect x="306" y="228" width="17" height="12" fill="url(#slat)" stroke="#d8bb78" stroke-width="0.35"/>
<rect x="325" y="228" width="18" height="12" fill="url(#slat)" stroke="#d8bb78" stroke-width="0.35"/>
<rect x="343" y="227.7" width="20" height="13" fill="url(#slat)" stroke="#d8bb78" stroke-width="0.35"/>
<rect x="363" y="227.7" width="12" height="13" fill="url(#slat)" stroke="#d8bb78" stroke-width="0.35"/>
<rect x="375" y="227.7" width="9" height="13" fill="url(#slat)" stroke="#d8bb78" stroke-width="0.35"/>
<rect x="386" y="227.7" width="16" height="13" fill="url(#slat)" stroke="#d8bb78" stroke-width="0.35"/>
<rect x="355" y="240.7" width="15" height="15" fill="url(#slat)" stroke="#d8bb78" stroke-width="0.35"/>
<rect x="370" y="240.7" width="14" height="15" fill="url(#slat)" stroke="#d8bb78" stroke-width="0.35"/>
<rect x="386" y="240.7" width="14" height="13" fill="url(#slat)" stroke="#d8bb78" stroke-width="0.35"/>
<rect x="400" y="240" width="20" height="8" fill="url(#slat)" stroke="#d8bb78" stroke-width="0.35"/>
<rect x="402" y="222" width="5" height="9" fill="url(#slat)" stroke="#d8bb78" stroke-width="0.35"/>
<rect x="407" y="222" width="9" height="9" fill="url(#slat)" stroke="#d8bb78" stroke-width="0.35"/>
<rect x="416" y="222" width="4" height="9" fill="url(#slat)" stroke="#d8bb78" stroke-width="0.35"/>
<rect x="420" y="222" width="8" height="9" fill="url(#slat)" stroke="#d8bb78" stroke-width="0.35"/>
<rect x="428" y="222" width="5" height="9" fill="url(#slat)" stroke="#d8bb78" stroke-width="0.35"/>
<rect x="433" y="222" width="8" height="9" fill="url(#slat)" stroke="#d8bb78" stroke-width="0.35"/>
<rect x="441" y="222" width="17" height="9" fill="url(#slat)" stroke="#d8bb78" stroke-width="0.35"/>
<rect x="458" y="222" width="8" height="9" fill="url(#slat)" stroke="#d8bb78" stroke-width="0.35"/>
<rect x="466" y="222" width="1.5" height="9" fill="url(#slat)" stroke="#d8bb78" stroke-width="0.35"/>
<rect x="402" y="231" width="13" height="9" fill="url(#slat)" stroke="#d8bb78" stroke-width="0.35"/>
<rect x="415" y="231" width="10" height="9" fill="url(#slat)" stroke="#d8bb78" stroke-width="0.35"/>
<rect x="425" y="231" width="15" height="9" fill="url(#slat)" stroke="#d8bb78" stroke-width="0.35"/>
<rect x="440" y="231" width="18" height="9" fill="url(#slat)" stroke="#d8bb78" stroke-width="0.35"/>
<rect x="458" y="231" width="9.5" height="9" fill="url(#slat)" stroke="#d8bb78" stroke-width="0.35"/>
<rect x="447" y="240" width="20" height="7" fill="url(#slat)" stroke="#d8bb78" stroke-width="0.35"/>
<rect x="469.5" y="222" width="10.5" height="9" fill="url(#slat)" stroke="#d8bb78" stroke-width="0.35"/>
<rect x="480" y="222" width="10" height="9" fill="url(#slat)" stroke="#d8bb78" stroke-width="0.35"/>
<rect x="490" y="222" width="8" height="9" fill="url(#slat)" stroke="#d8bb78" stroke-width="0.35"/>
<rect x="498" y="222" width="10" height="9" fill="url(#slat)" stroke="#d8bb78" stroke-width="0.35"/>
<rect x="508" y="222" width="10.5" height="9" fill="url(#slat)" stroke="#d8bb78" stroke-width="0.35"/>
<rect x="469.5" y="231" width="8.5" height="9" fill="url(#slat)" stroke="#d8bb78" stroke-width="0.35"/>
<rect x="478" y="231" width="12" height="9" fill="url(#slat)" stroke="#d8bb78" stroke-width="0.35"/>
<rect x="490" y="231" width="10" height="9" fill="url(#slat)" stroke="#d8bb78" stroke-width="0.35"/>
<rect x="500" y="231" width="10" height="9" fill="url(#slat)" stroke="#d8bb78" stroke-width="0.35"/>
<rect x="510" y="231" width="8.5" height="9" fill="url(#slat)" stroke="#d8bb78" stroke-width="0.35"/>
<rect x="469.5" y="240" width="12.5" height="9" fill="url(#slat)" stroke="#d8bb78" stroke-width="0.35"/>
<rect x="482" y="240" width="10" height="9" fill="url(#slat)" stroke="#d8bb78" stroke-width="0.35"/>
<rect x="492" y="240" width="12" height="9" fill="url(#slat)" stroke="#d8bb78" stroke-width="0.35"/>
<rect x="504" y="240" width="14.5" height="9" fill="url(#slat)" stroke="#d8bb78" stroke-width="0.35"/>
<rect x="469.5" y="249" width="35.5" height="8" fill="url(#slat)" stroke="#d8bb78" stroke-width="0.35"/>
<rect x="510" y="249" width="8.5" height="13" fill="url(#slat)" stroke="#d8bb78" stroke-width="0.35"/>
<rect x="467.5" y="215.0" width="2.0" height="47.0" fill="#fbfbfb"/>
<rect x="303.0" y="214.0" width="3.0" height="48.0" fill="#fbfaf5"/>
<rect x="143.5" y="248.5" width="27.0" height="13.5" fill="#e9f3f6"/>
<rect x="185.0" y="240.0" width="120.0" height="18.0" fill="#f9f0f4"/>
<rect x="186.0" y="240.0" width="1.1" height="18.0" fill="#f1d9e3"/>
<rect x="189.1" y="240.0" width="1.1" height="18.0" fill="#f1d9e3"/>
<rect x="192.2" y="240.0" width="1.1" height="18.0" fill="#f1d9e3"/>
<rect x="195.3" y="240.0" width="1.1" height="18.0" fill="#f1d9e3"/>
<rect x="198.4" y="240.0" width="1.1" height="18.0" fill="#f1d9e3"/>
<rect x="201.5" y="240.0" width="1.1" height="18.0" fill="#f1d9e3"/>
<rect x="204.6" y="240.0" width="1.1" height="18.0" fill="#f1d9e3"/>
<rect x="207.7" y="240.0" width="1.1" height="18.0" fill="#f1d9e3"/>
<rect x="210.8" y="240.0" width="1.1" height="18.0" fill="#f1d9e3"/>
<rect x="213.9" y="240.0" width="1.1" height="18.0" fill="#f1d9e3"/>
<rect x="217.0" y="240.0" width="1.1" height="18.0" fill="#f1d9e3"/>
<rect x="220.1" y="240.0" width="1.1" height="18.0" fill="#f1d9e3"/>
<rect x="223.2" y="240.0" width="1.1" height="18.0" fill="#f1d9e3"/>
<rect x="226.3" y="240.0" width="1.1" height="18.0" fill="#f1d9e3"/>
<rect x="229.4" y="240.0" width="1.1" height="18.0" fill="#f1d9e3"/>
<rect x="232.5" y="240.0" width="1.1" height="18.0" fill="#f1d9e3"/>
<rect x="235.6" y="240.0" width="1.1" height="18.0" fill="#f1d9e3"/>
<rect x="238.7" y="240.0" width="1.1" height="18.0" fill="#f1d9e3"/>
<rect x="241.8" y="240.0" width="1.1" height="18.0" fill="#f1d9e3"/>
<rect x="244.9" y="240.0" width="1.1" height="18.0" fill="#f1d9e3"/>
<rect x="248.0" y="240.0" width="1.1" height="18.0" fill="#f1d9e3"/>
<rect x="251.1" y="240.0" width="1.1" height="18.0" fill="#f1d9e3"/>
<rect x="254.2" y="240.0" width="1.1" height="18.0" fill="#f1d9e3"/>
<rect x="257.3" y="240.0" width="1.1" height="18.0" fill="#f1d9e3"/>
<rect x="260.4" y="240.0" width="1.1" height="18.0" fill="#f1d9e3"/>
<rect x="263.5" y="240.0" width="1.1" height="18.0" fill="#f1d9e3"/>
<rect x="266.6" y="240.0" width="1.1" height="18.0" fill="#f1d9e3"/>
<rect x="269.7" y="240.0" width="1.1" height="18.0" fill="#f1d9e3"/>
<rect x="272.8" y="240.0" width="1.1" height="18.0" fill="#f1d9e3"/>
<rect x="275.9" y="240.0" width="1.1" height="18.0" fill="#f1d9e3"/>
<rect x="279.0" y="240.0" width="1.1" height="18.0" fill="#f1d9e3"/>
<rect x="282.1" y="240.0" width="1.1" height="18.0" fill="#f1d9e3"/>
<rect x="285.2" y="240.0" width="1.1" height="18.0" fill="#f1d9e3"/>
<rect x="288.3" y="240.0" width="1.1" height="18.0" fill="#f1d9e3"/>
<rect x="291.4" y="240.0" width="1.1" height="18.0" fill="#f1d9e3"/>
<rect x="294.5" y="240.0" width="1.1" height="18.0" fill="#f1d9e3"/>
<rect x="297.6" y="240.0" width="1.1" height="18.0" fill="#f1d9e3"/>
<rect x="300.7" y="240.0" width="1.1" height="18.0" fill="#f1d9e3"/>
<rect x="186.0" y="240.5" width="7.0" height="7.0" fill="#efd0dc"/>
<rect x="199.0" y="241.0" width="4.0" height="8.0" fill="#ebbdd0"/>
<rect x="211.4" y="248.9" width="3.5" height="7.7" fill="#d394ad"/>
<rect x="224.3" y="249.0" width="3.0" height="8.0" fill="#d394ad"/>
<rect x="233.7" y="240.5" width="17.0" height="6.5" fill="#ead3e4"/>
<rect x="216.0" y="241.0" width="6.0" height="6.0" fill="#f0d7e1"/>
<rect x="276.0" y="241.0" width="5.7" height="8.0" fill="#e9b5c8"/>
<rect x="289.0" y="249.0" width="4.7" height="8.0" fill="#e8b0c5"/>
<rect x="296.3" y="249.0" width="5.1" height="7.0" fill="#eac2d2"/>
<rect x="262.0" y="241.0" width="4.0" height="6.0" fill="#efcfdc"/>
<rect x="240.0" y="249.0" width="3.0" height="7.0" fill="#e9c2d2"/>
<rect x="204.0" y="249.0" width="3.0" height="7.0" fill="#edc9d7"/>
<rect x="185.0" y="258.0" width="120.0" height="4.0" fill="#e4e0e6"/>
<rect x="402.0" y="206.5" width="65.5" height="15.5" fill="#fcfdfd"/>
<rect x="402.5" y="207.0" width="5.0" height="15.0" fill="#edd28f"/>
<rect x="412.0" y="208.0" width="6.0" height="5.0" fill="#eef5f7"/>
<rect x="424.0" y="214.0" width="4.0" height="8.0" fill="#8097a6"/>
<rect x="430.0" y="207.0" width="5.0" height="6.0" fill="#e3eff2"/>
<rect x="436.0" y="206.5" width="1.2" height="8.0" fill="#7a8a95"/>
<rect x="446.0" y="215.0" width="12.0" height="7.0" fill="#c5e3ea"/>
<rect x="460.0" y="206.5" width="6.0" height="9.0" fill="#d0e8ee"/>
<rect x="457.0" y="214.0" width="3.0" height="8.0" fill="#7d93a3"/>
<rect x="440.0" y="214.0" width="5.0" height="8.0" fill="#eaf2f4"/>
<rect x="409.0" y="206.5" width="0.5" height="15.5" fill="#d4dadd"/>
<rect x="416.0" y="206.5" width="0.5" height="15.5" fill="#d4dadd"/>
<rect x="421.0" y="206.5" width="0.5" height="15.5" fill="#d4dadd"/>
<rect x="429.0" y="206.5" width="0.5" height="15.5" fill="#d4dadd"/>
<rect x="444.0" y="206.5" width="0.5" height="15.5" fill="#d4dadd"/>
<rect x="452.0" y="206.5" width="0.5" height="15.5" fill="#d4dadd"/>
<rect x="466.0" y="206.5" width="0.5" height="15.5" fill="#d4dadd"/>
<rect x="343.0" y="241.0" width="12.0" height="21.0" fill="#f8f8f6"/>
<rect x="400.0" y="248.0" width="67.5" height="14.0" fill="#f6f8f8"/>
<rect x="355.0" y="255.7" width="45.0" height="6.3" fill="#f6f6f4"/>
<rect x="415.0" y="241.0" width="30.0" height="21.0" fill="#f4f8f9"/>
<rect x="418.0" y="244.0" width="10.0" height="12.0" fill="#e1eef2"/>
<rect x="430.0" y="246.0" width="8.0" height="9.0" fill="#eaf3f5"/>
<rect x="435.0" y="255.5" width="5.0" height="6.5" fill="#7c98a8"/>
<rect x="454.0" y="255.5" width="5.0" height="6.5" fill="#7c98a8"/>
<rect x="462.0" y="249.0" width="5.0" height="13.0" fill="#eef2f3"/>
<rect x="342.5" y="205.0" width="1.2" height="58.0" fill="#ffffff" opacity="0.7"/>
<rect x="401.8" y="205.0" width="1.2" height="58.0" fill="#ffffff" opacity="0.7"/>
<rect x="139.3" y="214.3" width="58.6" height="17.7" fill="#fff" stroke="#6e6e6e" stroke-width="1.0"/>
<rect x="139.3" y="214.3" width="58.6" height="1.8" fill="#8f8f8f"/>
<rect x="139.3" y="222.8" width="58.6" height="1.6" fill="#8a8a8a"/>
<rect x="139.3" y="230.2" width="58.6" height="1.8" fill="#8f8f8f"/>
<path d="M 145.3 222.6 l 0.9 -1.7 l 0.9 1.7 M 147.3 222.6 l 0.9 -2.6 M 148.3 222.6 l 0.9 -1.7 l 0.9 1.7" fill="none" stroke="#4a4a4a" stroke-width="0.7"/>
<path d="M 153.8 222.6 l 0.9 -1.7 l 0.9 1.7 M 155.8 222.6 l 0.9 -2.6 M 156.8 222.6 l 0.9 -1.7 l 0.9 1.7" fill="none" stroke="#4a4a4a" stroke-width="0.7"/>
<path d="M 164.3 222.6 l 0.9 -1.7 l 0.9 1.7 M 166.3 222.6 l 0.9 -2.6 M 167.3 222.6 l 0.9 -1.7 l 0.9 1.7" fill="none" stroke="#4a4a4a" stroke-width="0.7"/>
<path d="M 173.3 222.6 l 0.9 -1.7 l 0.9 1.7 M 175.3 222.6 l 0.9 -2.6 M 176.3 222.6 l 0.9 -1.7 l 0.9 1.7" fill="none" stroke="#4a4a4a" stroke-width="0.7"/>
<path d="M 186.3 222.6 l 0.9 -1.7 l 0.9 1.7 M 188.3 222.6 l 0.9 -2.6 M 189.3 222.6 l 0.9 -1.7 l 0.9 1.7" fill="none" stroke="#4a4a4a" stroke-width="0.7"/>
<path d="M 140.8 230.0 l 0.9 -1.7 l 0.9 1.7 M 142.8 230.0 l 0.9 -2.6 M 143.8 230.0 l 0.9 -1.7 l 0.9 1.7" fill="none" stroke="#4a4a4a" stroke-width="0.7"/>
<path d="M 146.3 230.0 l 0.9 -1.7 l 0.9 1.7 M 148.3 230.0 l 0.9 -2.6 M 149.3 230.0 l 0.9 -1.7 l 0.9 1.7" fill="none" stroke="#4a4a4a" stroke-width="0.7"/>
<path d="M 154.3 230.0 l 0.9 -1.7 l 0.9 1.7 M 156.3 230.0 l 0.9 -2.6 M 157.3 230.0 l 0.9 -1.7 l 0.9 1.7" fill="none" stroke="#4a4a4a" stroke-width="0.7"/>
<path d="M 165.3 230.0 l 0.9 -1.7 l 0.9 1.7 M 167.3 230.0 l 0.9 -2.6 M 168.3 230.0 l 0.9 -1.7 l 0.9 1.7" fill="none" stroke="#4a4a4a" stroke-width="0.7"/>
<path d="M 179.3 230.0 l 0.9 -1.7 l 0.9 1.7 M 181.3 230.0 l 0.9 -2.6 M 182.3 230.0 l 0.9 -1.7 l 0.9 1.7" fill="none" stroke="#4a4a4a" stroke-width="0.7"/>
<path d="M 188.3 230.0 l 0.9 -1.7 l 0.9 1.7 M 190.3 230.0 l 0.9 -2.6 M 191.3 230.0 l 0.9 -1.7 l 0.9 1.7" fill="none" stroke="#4a4a4a" stroke-width="0.7"/>
<path d="M 197.9 217.3 C 191.9 222.3, 174.5 220.5, 156.9 221.7" fill="none" stroke="#d8707c" stroke-width="0.6"/>
<path d="M 197.9 224.0 C 191.9 231.1, 174.5 228.5, 156.9 229.9" fill="none" stroke="#d8707c" stroke-width="0.6"/>
<rect x="244.3" y="214.5" width="58.7" height="17.8" fill="#fff" stroke="#6e6e6e" stroke-width="1.0"/>
<rect x="244.3" y="214.5" width="58.7" height="1.8" fill="#8f8f8f"/>
<rect x="244.3" y="223.0" width="58.7" height="1.6" fill="#8a8a8a"/>
<rect x="244.3" y="230.5" width="58.7" height="1.8" fill="#8f8f8f"/>
<path d="M 250.3 222.8 l 0.9 -1.7 l 0.9 1.7 M 252.3 222.8 l 0.9 -2.6 M 253.3 222.8 l 0.9 -1.7 l 0.9 1.7" fill="none" stroke="#4a4a4a" stroke-width="0.7"/>
<path d="M 258.8 222.8 l 0.9 -1.7 l 0.9 1.7 M 260.8 222.8 l 0.9 -2.6 M 261.8 222.8 l 0.9 -1.7 l 0.9 1.7" fill="none" stroke="#4a4a4a" stroke-width="0.7"/>
<path d="M 269.3 222.8 l 0.9 -1.7 l 0.9 1.7 M 271.3 222.8 l 0.9 -2.6 M 272.3 222.8 l 0.9 -1.7 l 0.9 1.7" fill="none" stroke="#4a4a4a" stroke-width="0.7"/>
<path d="M 278.3 222.8 l 0.9 -1.7 l 0.9 1.7 M 280.3 222.8 l 0.9 -2.6 M 281.3 222.8 l 0.9 -1.7 l 0.9 1.7" fill="none" stroke="#4a4a4a" stroke-width="0.7"/>
<path d="M 291.3 222.8 l 0.9 -1.7 l 0.9 1.7 M 293.3 222.8 l 0.9 -2.6 M 294.3 222.8 l 0.9 -1.7 l 0.9 1.7" fill="none" stroke="#4a4a4a" stroke-width="0.7"/>
<path d="M 245.8 230.3 l 0.9 -1.7 l 0.9 1.7 M 247.8 230.3 l 0.9 -2.6 M 248.8 230.3 l 0.9 -1.7 l 0.9 1.7" fill="none" stroke="#4a4a4a" stroke-width="0.7"/>
<path d="M 251.3 230.3 l 0.9 -1.7 l 0.9 1.7 M 253.3 230.3 l 0.9 -2.6 M 254.3 230.3 l 0.9 -1.7 l 0.9 1.7" fill="none" stroke="#4a4a4a" stroke-width="0.7"/>
<path d="M 259.3 230.3 l 0.9 -1.7 l 0.9 1.7 M 261.3 230.3 l 0.9 -2.6 M 262.3 230.3 l 0.9 -1.7 l 0.9 1.7" fill="none" stroke="#4a4a4a" stroke-width="0.7"/>
<path d="M 270.3 230.3 l 0.9 -1.7 l 0.9 1.7 M 272.3 230.3 l 0.9 -2.6 M 273.3 230.3 l 0.9 -1.7 l 0.9 1.7" fill="none" stroke="#4a4a4a" stroke-width="0.7"/>
<path d="M 284.3 230.3 l 0.9 -1.7 l 0.9 1.7 M 286.3 230.3 l 0.9 -2.6 M 287.3 230.3 l 0.9 -1.7 l 0.9 1.7" fill="none" stroke="#4a4a4a" stroke-width="0.7"/>
<path d="M 293.3 230.3 l 0.9 -1.7 l 0.9 1.7 M 295.3 230.3 l 0.9 -2.6 M 296.3 230.3 l 0.9 -1.7 l 0.9 1.7" fill="none" stroke="#4a4a4a" stroke-width="0.7"/>
<path d="M 303.0 217.5 C 297.0 222.5, 279.5 220.7, 261.9 222.0" fill="none" stroke="#d8707c" stroke-width="0.6"/>
<path d="M 303.0 224.3 C 297.0 231.4, 279.5 228.7, 261.9 230.2" fill="none" stroke="#d8707c" stroke-width="0.6"/>
<rect x="342" y="206.4" width="60" height="18.3" fill="#fff" stroke="#6e6e6e" stroke-width="1.0"/>
<rect x="342.0" y="206.4" width="60.0" height="1.8" fill="#8f8f8f"/>
<rect x="342.0" y="215.2" width="60.0" height="1.6" fill="#8a8a8a"/>
<rect x="342.0" y="222.9" width="60.0" height="1.8" fill="#8f8f8f"/>
<path d="M 348.0 215.0 l 0.9 -1.7 l 0.9 1.7 M 350.0 215.0 l 0.9 -2.6 M 351.0 215.0 l 0.9 -1.7 l 0.9 1.7" fill="none" stroke="#4a4a4a" stroke-width="0.7"/>
<path d="M 356.5 215.0 l 0.9 -1.7 l 0.9 1.7 M 358.5 215.0 l 0.9 -2.6 M 359.5 215.0 l 0.9 -1.7 l 0.9 1.7" fill="none" stroke="#4a4a4a" stroke-width="0.7"/>
<path d="M 367.0 215.0 l 0.9 -1.7 l 0.9 1.7 M 369.0 215.0 l 0.9 -2.6 M 370.0 215.0 l 0.9 -1.7 l 0.9 1.7" fill="none" stroke="#4a4a4a" stroke-width="0.7"/>
<path d="M 376.0 215.0 l 0.9 -1.7 l 0.9 1.7 M 378.0 215.0 l 0.9 -2.6 M 379.0 215.0 l 0.9 -1.7 l 0.9 1.7" fill="none" stroke="#4a4a4a" stroke-width="0.7"/>
<path d="M 389.0 215.0 l 0.9 -1.7 l 0.9 1.7 M 391.0 215.0 l 0.9 -2.6 M 392.0 215.0 l 0.9 -1.7 l 0.9 1.7" fill="none" stroke="#4a4a4a" stroke-width="0.7"/>
<path d="M 343.5 222.7 l 0.9 -1.7 l 0.9 1.7 M 345.5 222.7 l 0.9 -2.6 M 346.5 222.7 l 0.9 -1.7 l 0.9 1.7" fill="none" stroke="#4a4a4a" stroke-width="0.7"/>
<path d="M 349.0 222.7 l 0.9 -1.7 l 0.9 1.7 M 351.0 222.7 l 0.9 -2.6 M 352.0 222.7 l 0.9 -1.7 l 0.9 1.7" fill="none" stroke="#4a4a4a" stroke-width="0.7"/>
<path d="M 357.0 222.7 l 0.9 -1.7 l 0.9 1.7 M 359.0 222.7 l 0.9 -2.6 M 360.0 222.7 l 0.9 -1.7 l 0.9 1.7" fill="none" stroke="#4a4a4a" stroke-width="0.7"/>
<path d="M 368.0 222.7 l 0.9 -1.7 l 0.9 1.7 M 370.0 222.7 l 0.9 -2.6 M 371.0 222.7 l 0.9 -1.7 l 0.9 1.7" fill="none" stroke="#4a4a4a" stroke-width="0.7"/>
<path d="M 382.0 222.7 l 0.9 -1.7 l 0.9 1.7 M 384.0 222.7 l 0.9 -2.6 M 385.0 222.7 l 0.9 -1.7 l 0.9 1.7" fill="none" stroke="#4a4a4a" stroke-width="0.7"/>
<path d="M 391.0 222.7 l 0.9 -1.7 l 0.9 1.7 M 393.0 222.7 l 0.9 -2.6 M 394.0 222.7 l 0.9 -1.7 l 0.9 1.7" fill="none" stroke="#4a4a4a" stroke-width="0.7"/>
<path d="M 402.0 209.4 C 396.0 214.6, 378.0 212.8, 360.0 214.1" fill="none" stroke="#d8707c" stroke-width="0.6"/>
<path d="M 402.0 216.5 C 396.0 223.8, 378.0 221.0, 360.0 222.5" fill="none" stroke="#d8707c" stroke-width="0.6"/>
<line x1="175.2" y1="254.0" x2="175.2" y2="259.0" stroke="#7d6b4c" stroke-width="0.8"/>
<g fill="none" stroke="#56812f" stroke-width="1.1"><ellipse cx="175.2" cy="249.8" rx="5.6" ry="2.1"/><circle cx="180.6" cy="250.4" r="2.8"/><circle cx="177.9" cy="251.6" r="3.1"/><circle cx="173.6" cy="251.8" r="3.5"/><circle cx="170.3" cy="250.7" r="2.8"/><circle cx="169.9" cy="249.1" r="3.1"/><circle cx="172.6" cy="247.9" r="3.5"/><circle cx="176.9" cy="247.7" r="2.8"/><circle cx="180.2" cy="248.8" r="3.1"/></g>
<g fill="#95be55"><ellipse cx="175.2" cy="249.8" rx="5.6" ry="2.1"/><circle cx="180.6" cy="250.4" r="2.8"/><circle cx="177.9" cy="251.6" r="3.1"/><circle cx="173.6" cy="251.8" r="3.5"/><circle cx="170.3" cy="250.7" r="2.8"/><circle cx="169.9" cy="249.1" r="3.1"/><circle cx="172.6" cy="247.9" r="3.5"/><circle cx="176.9" cy="247.7" r="2.8"/><circle cx="180.2" cy="248.8" r="3.1"/></g>
<line x1="169.2" y1="258.0" x2="169.2" y2="263.0" stroke="#7d6b4c" stroke-width="0.8"/>
<g fill="none" stroke="#56812f" stroke-width="1.1"><ellipse cx="169.2" cy="255.5" rx="1.1" ry="1.9"/><circle cx="170.3" cy="256.0" r="1.5"/><circle cx="169.5" cy="257.3" r="1.6"/><circle cx="168.4" cy="256.8" r="1.8"/><circle cx="168.2" cy="255.0" r="1.5"/><circle cx="169.0" cy="253.7" r="1.6"/><circle cx="170.1" cy="254.2" r="1.8"/></g>
<g fill="#95be55"><ellipse cx="169.2" cy="255.5" rx="1.1" ry="1.9"/><circle cx="170.3" cy="256.0" r="1.5"/><circle cx="169.5" cy="257.3" r="1.6"/><circle cx="168.4" cy="256.8" r="1.8"/><circle cx="168.2" cy="255.0" r="1.5"/><circle cx="169.0" cy="253.7" r="1.6"/><circle cx="170.1" cy="254.2" r="1.8"/></g>
<line x1="180.0" y1="259.0" x2="180.0" y2="264.0" stroke="#7d6b4c" stroke-width="0.8"/>
<g fill="none" stroke="#56812f" stroke-width="1.1"><ellipse cx="180.0" cy="256.5" rx="1.2" ry="1.7"/><circle cx="181.1" cy="257.0" r="1.6"/><circle cx="180.3" cy="258.2" r="1.8"/><circle cx="179.1" cy="257.7" r="2.0"/><circle cx="178.9" cy="256.0" r="1.6"/><circle cx="179.7" cy="254.8" r="1.8"/><circle cx="180.9" cy="255.3" r="2.0"/></g>
<g fill="#95be55"><ellipse cx="180.0" cy="256.5" rx="1.2" ry="1.7"/><circle cx="181.1" cy="257.0" r="1.6"/><circle cx="180.3" cy="258.2" r="1.8"/><circle cx="179.1" cy="257.7" r="2.0"/><circle cx="178.9" cy="256.0" r="1.6"/><circle cx="179.7" cy="254.8" r="1.8"/><circle cx="180.9" cy="255.3" r="2.0"/></g>
<line x1="189.0" y1="253.0" x2="189.0" y2="258.0" stroke="#7d6b4c" stroke-width="0.8"/>
<g fill="none" stroke="#56812f" stroke-width="1.1"><ellipse cx="189.0" cy="249.2" rx="5.2" ry="1.9"/><circle cx="193.9" cy="249.8" r="2.6"/><circle cx="191.4" cy="250.9" r="2.9"/><circle cx="187.5" cy="251.1" r="3.1"/><circle cx="184.4" cy="250.1" r="2.6"/><circle cx="184.1" cy="248.7" r="2.9"/><circle cx="186.6" cy="247.6" r="3.1"/><circle cx="190.5" cy="247.4" r="2.6"/><circle cx="193.6" cy="248.4" r="2.9"/></g>
<g fill="#95be55"><ellipse cx="189.0" cy="249.2" rx="5.2" ry="1.9"/><circle cx="193.9" cy="249.8" r="2.6"/><circle cx="191.4" cy="250.9" r="2.9"/><circle cx="187.5" cy="251.1" r="3.1"/><circle cx="184.4" cy="250.1" r="2.6"/><circle cx="184.1" cy="248.7" r="2.9"/><circle cx="186.6" cy="247.6" r="3.1"/><circle cx="190.5" cy="247.4" r="2.6"/><circle cx="193.6" cy="248.4" r="2.9"/></g>
<line x1="197.5" y1="258.5" x2="197.5" y2="263.5" stroke="#7d6b4c" stroke-width="0.8"/>
<g fill="none" stroke="#56812f" stroke-width="1.1"><ellipse cx="197.5" cy="256.8" rx="1.4" ry="1.1"/><circle cx="198.8" cy="257.1" r="1.5"/><circle cx="197.8" cy="257.8" r="1.6"/><circle cx="196.5" cy="257.5" r="1.8"/><circle cx="196.2" cy="256.4" r="1.5"/><circle cx="197.2" cy="255.7" r="1.6"/><circle cx="198.5" cy="256.0" r="1.8"/></g>
<g fill="#95be55"><ellipse cx="197.5" cy="256.8" rx="1.4" ry="1.1"/><circle cx="198.8" cy="257.1" r="1.5"/><circle cx="197.8" cy="257.8" r="1.6"/><circle cx="196.5" cy="257.5" r="1.8"/><circle cx="196.2" cy="256.4" r="1.5"/><circle cx="197.2" cy="255.7" r="1.6"/><circle cx="198.5" cy="256.0" r="1.8"/></g>
<line x1="242.5" y1="255.6" x2="242.5" y2="260.6" stroke="#7d6b4c" stroke-width="0.8"/>
<g fill="none" stroke="#56812f" stroke-width="1.1"><ellipse cx="242.5" cy="251.5" rx="6.4" ry="2.0"/><circle cx="248.7" cy="252.1" r="2.8"/><circle cx="246.0" cy="253.2" r="3.1"/><circle cx="241.7" cy="253.5" r="3.4"/><circle cx="237.8" cy="252.9" r="2.8"/><circle cx="236.1" cy="251.6" r="3.1"/><circle cx="237.4" cy="250.3" r="3.4"/><circle cx="241.1" cy="249.5" r="2.8"/><circle cx="245.4" cy="249.7" r="3.1"/><circle cx="248.4" cy="250.7" r="3.4"/></g>
<g fill="#95be55"><ellipse cx="242.5" cy="251.5" rx="6.4" ry="2.0"/><circle cx="248.7" cy="252.1" r="2.8"/><circle cx="246.0" cy="253.2" r="3.1"/><circle cx="241.7" cy="253.5" r="3.4"/><circle cx="237.8" cy="252.9" r="2.8"/><circle cx="236.1" cy="251.6" r="3.1"/><circle cx="237.4" cy="250.3" r="3.4"/><circle cx="241.1" cy="249.5" r="2.8"/><circle cx="245.4" cy="249.7" r="3.1"/><circle cx="248.4" cy="250.7" r="3.4"/></g>
<line x1="260.3" y1="255.6" x2="260.3" y2="260.6" stroke="#7d6b4c" stroke-width="0.8"/>
<g fill="none" stroke="#56812f" stroke-width="1.1"><ellipse cx="260.3" cy="251.5" rx="5.2" ry="2.0"/><circle cx="265.3" cy="252.1" r="2.8"/><circle cx="262.7" cy="253.3" r="3.1"/><circle cx="258.8" cy="253.4" r="3.4"/><circle cx="255.7" cy="252.5" r="2.8"/><circle cx="255.3" cy="250.9" r="3.1"/><circle cx="257.9" cy="249.7" r="3.4"/><circle cx="261.8" cy="249.6" r="2.8"/><circle cx="264.9" cy="250.5" r="3.1"/></g>
<g fill="#95be55"><ellipse cx="260.3" cy="251.5" rx="5.2" ry="2.0"/><circle cx="265.3" cy="252.1" r="2.8"/><circle cx="262.7" cy="253.3" r="3.1"/><circle cx="258.8" cy="253.4" r="3.4"/><circle cx="255.7" cy="252.5" r="2.8"/><circle cx="255.3" cy="250.9" r="3.1"/><circle cx="257.9" cy="249.7" r="3.4"/><circle cx="261.8" cy="249.6" r="2.8"/><circle cx="264.9" cy="250.5" r="3.1"/></g>
<line x1="273.8" y1="255.6" x2="273.8" y2="260.6" stroke="#7d6b4c" stroke-width="0.8"/>
<g fill="none" stroke="#a9c98a" stroke-width="1.1"><ellipse cx="273.8" cy="251.5" rx="2.1" ry="2.0"/><circle cx="275.8" cy="252.1" r="2.8"/><circle cx="274.3" cy="253.5" r="3.1"/><circle cx="272.2" cy="252.9" r="3.4"/><circle cx="271.8" cy="250.9" r="2.8"/><circle cx="273.3" cy="249.5" r="3.1"/><circle cx="275.4" cy="250.1" r="3.4"/></g>
<g fill="#c8e0aa"><ellipse cx="273.8" cy="251.5" rx="2.1" ry="2.0"/><circle cx="275.8" cy="252.1" r="2.8"/><circle cx="274.3" cy="253.5" r="3.1"/><circle cx="272.2" cy="252.9" r="3.4"/><circle cx="271.8" cy="250.9" r="2.8"/><circle cx="273.3" cy="249.5" r="3.1"/><circle cx="275.4" cy="250.1" r="3.4"/></g>
<line x1="302.9" y1="258.6" x2="302.9" y2="263.6" stroke="#7d6b4c" stroke-width="0.8"/>
<g fill="none" stroke="#56812f" stroke-width="1.1"><ellipse cx="302.9" cy="256.3" rx="1.3" ry="1.4"/><circle cx="304.1" cy="256.7" r="1.7"/><circle cx="303.1" cy="257.7" r="1.9"/><circle cx="301.9" cy="257.3" r="2.1"/><circle cx="301.6" cy="255.9" r="1.7"/><circle cx="302.6" cy="254.9" r="1.9"/><circle cx="303.8" cy="255.3" r="2.1"/></g>
<g fill="#95be55"><ellipse cx="302.9" cy="256.3" rx="1.3" ry="1.4"/><circle cx="304.1" cy="256.7" r="1.7"/><circle cx="303.1" cy="257.7" r="1.9"/><circle cx="301.9" cy="257.3" r="2.1"/><circle cx="301.6" cy="255.9" r="1.7"/><circle cx="302.6" cy="254.9" r="1.9"/><circle cx="303.8" cy="255.3" r="2.1"/></g>
<line x1="321.2" y1="252.4" x2="321.2" y2="257.4" stroke="#7d6b4c" stroke-width="0.8"/>
<g fill="none" stroke="#56812f" stroke-width="1.1"><ellipse cx="321.2" cy="248.6" rx="6.9" ry="1.9"/><circle cx="327.8" cy="249.2" r="2.6"/><circle cx="325.4" cy="250.1" r="2.9"/><circle cx="321.3" cy="250.5" r="3.2"/><circle cx="317.3" cy="250.2" r="2.6"/><circle cx="314.7" cy="249.2" r="2.9"/><circle cx="314.7" cy="248.0" r="3.2"/><circle cx="317.1" cy="247.1" r="2.6"/><circle cx="321.2" cy="246.7" r="2.9"/><circle cx="325.2" cy="247.0" r="3.2"/><circle cx="327.8" cy="248.0" r="2.6"/></g>
<g fill="#95be55"><ellipse cx="321.2" cy="248.6" rx="6.9" ry="1.9"/><circle cx="327.8" cy="249.2" r="2.6"/><circle cx="325.4" cy="250.1" r="2.9"/><circle cx="321.3" cy="250.5" r="3.2"/><circle cx="317.3" cy="250.2" r="2.6"/><circle cx="314.7" cy="249.2" r="2.9"/><circle cx="314.7" cy="248.0" r="3.2"/><circle cx="317.1" cy="247.1" r="2.6"/><circle cx="321.2" cy="246.7" r="2.9"/><circle cx="325.2" cy="247.0" r="3.2"/><circle cx="327.8" cy="248.0" r="2.6"/></g>
<line x1="344.5" y1="256.0" x2="344.5" y2="261.0" stroke="#7d6b4c" stroke-width="0.8"/>
<g fill="none" stroke="#56812f" stroke-width="1.1"><ellipse cx="344.5" cy="251.0" rx="4.9" ry="2.4"/><circle cx="349.2" cy="251.7" r="3.2"/><circle cx="346.3" cy="253.2" r="3.6"/><circle cx="342.0" cy="253.1" r="4.0"/><circle cx="339.7" cy="251.4" r="3.2"/><circle cx="340.9" cy="249.4" r="3.6"/><circle cx="344.9" cy="248.6" r="4.0"/><circle cx="348.6" cy="249.6" r="3.2"/></g>
<g fill="#95be55"><ellipse cx="344.5" cy="251.0" rx="4.9" ry="2.4"/><circle cx="349.2" cy="251.7" r="3.2"/><circle cx="346.3" cy="253.2" r="3.6"/><circle cx="342.0" cy="253.1" r="4.0"/><circle cx="339.7" cy="251.4" r="3.2"/><circle cx="340.9" cy="249.4" r="3.6"/><circle cx="344.9" cy="248.6" r="4.0"/><circle cx="348.6" cy="249.6" r="3.2"/></g>
<line x1="385.5" y1="259.0" x2="385.5" y2="264.0" stroke="#7d6b4c" stroke-width="0.8"/>
<g fill="none" stroke="#56812f" stroke-width="1.1"><ellipse cx="385.5" cy="256.0" rx="7.1" ry="1.6"/><circle cx="392.3" cy="256.5" r="2.2"/><circle cx="390.3" cy="257.2" r="2.4"/><circle cx="387.1" cy="257.6" r="2.6"/><circle cx="383.4" cy="257.5" r="2.2"/><circle cx="380.3" cy="257.1" r="2.4"/><circle cx="378.6" cy="256.4" r="2.6"/><circle cx="378.7" cy="255.5" r="2.2"/><circle cx="380.7" cy="254.8" r="2.4"/><circle cx="383.9" cy="254.4" r="2.6"/><circle cx="387.6" cy="254.5" r="2.2"/><circle cx="390.7" cy="254.9" r="2.4"/><circle cx="392.4" cy="255.6" r="2.6"/></g>
<g fill="#95be55"><ellipse cx="385.5" cy="256.0" rx="7.1" ry="1.6"/><circle cx="392.3" cy="256.5" r="2.2"/><circle cx="390.3" cy="257.2" r="2.4"/><circle cx="387.1" cy="257.6" r="2.6"/><circle cx="383.4" cy="257.5" r="2.2"/><circle cx="380.3" cy="257.1" r="2.4"/><circle cx="378.6" cy="256.4" r="2.6"/><circle cx="378.7" cy="255.5" r="2.2"/><circle cx="380.7" cy="254.8" r="2.4"/><circle cx="383.9" cy="254.4" r="2.6"/><circle cx="387.6" cy="254.5" r="2.2"/><circle cx="390.7" cy="254.9" r="2.4"/><circle cx="392.4" cy="255.6" r="2.6"/></g>
<line x1="401.5" y1="259.0" x2="401.5" y2="264.0" stroke="#7d6b4c" stroke-width="0.8"/>
<g fill="none" stroke="#56812f" stroke-width="1.1"><ellipse cx="401.5" cy="256.0" rx="4.1" ry="1.6"/><circle cx="405.4" cy="256.5" r="2.2"/><circle cx="403.4" cy="257.4" r="2.4"/><circle cx="400.3" cy="257.5" r="2.6"/><circle cx="397.9" cy="256.7" r="2.2"/><circle cx="397.6" cy="255.5" r="2.4"/><circle cx="399.6" cy="254.6" r="2.6"/><circle cx="402.7" cy="254.5" r="2.2"/><circle cx="405.1" cy="255.3" r="2.4"/></g>
<g fill="#95be55"><ellipse cx="401.5" cy="256.0" rx="4.1" ry="1.6"/><circle cx="405.4" cy="256.5" r="2.2"/><circle cx="403.4" cy="257.4" r="2.4"/><circle cx="400.3" cy="257.5" r="2.6"/><circle cx="397.9" cy="256.7" r="2.2"/><circle cx="397.6" cy="255.5" r="2.4"/><circle cx="399.6" cy="254.6" r="2.6"/><circle cx="402.7" cy="254.5" r="2.2"/><circle cx="405.1" cy="255.3" r="2.4"/></g>
<line x1="403.0" y1="252.0" x2="403.0" y2="257.0" stroke="#7d6b4c" stroke-width="0.8"/>
<g fill="none" stroke="#56812f" stroke-width="1.1"><ellipse cx="403.0" cy="248.2" rx="7.2" ry="1.9"/><circle cx="409.8" cy="248.8" r="2.6"/><circle cx="407.6" cy="249.7" r="2.9"/><circle cx="403.9" cy="250.1" r="3.1"/><circle cx="399.9" cy="250.0" r="2.6"/><circle cx="396.9" cy="249.3" r="2.9"/><circle cx="395.9" cy="248.2" r="3.1"/><circle cx="397.0" cy="247.2" r="2.6"/><circle cx="400.1" cy="246.5" r="2.9"/><circle cx="404.1" cy="246.4" r="3.1"/><circle cx="407.8" cy="246.8" r="2.6"/><circle cx="409.9" cy="247.7" r="2.9"/></g>
<g fill="#95be55"><ellipse cx="403.0" cy="248.2" rx="7.2" ry="1.9"/><circle cx="409.8" cy="248.8" r="2.6"/><circle cx="407.6" cy="249.7" r="2.9"/><circle cx="403.9" cy="250.1" r="3.1"/><circle cx="399.9" cy="250.0" r="2.6"/><circle cx="396.9" cy="249.3" r="2.9"/><circle cx="395.9" cy="248.2" r="3.1"/><circle cx="397.0" cy="247.2" r="2.6"/><circle cx="400.1" cy="246.5" r="2.9"/><circle cx="404.1" cy="246.4" r="3.1"/><circle cx="407.8" cy="246.8" r="2.6"/><circle cx="409.9" cy="247.7" r="2.9"/></g>
<line x1="414.5" y1="258.0" x2="414.5" y2="263.0" stroke="#7d6b4c" stroke-width="0.8"/>
<g fill="none" stroke="#a9c98a" stroke-width="1.1"><ellipse cx="414.5" cy="255.0" rx="3.1" ry="1.6"/><circle cx="417.5" cy="255.5" r="2.2"/><circle cx="415.2" cy="256.6" r="2.4"/><circle cx="412.2" cy="256.1" r="2.6"/><circle cx="411.5" cy="254.5" r="2.2"/><circle cx="413.8" cy="253.4" r="2.4"/><circle cx="416.8" cy="253.9" r="2.6"/></g>
<g fill="#c8e0aa"><ellipse cx="414.5" cy="255.0" rx="3.1" ry="1.6"/><circle cx="417.5" cy="255.5" r="2.2"/><circle cx="415.2" cy="256.6" r="2.4"/><circle cx="412.2" cy="256.1" r="2.6"/><circle cx="411.5" cy="254.5" r="2.2"/><circle cx="413.8" cy="253.4" r="2.4"/><circle cx="416.8" cy="253.9" r="2.6"/></g>
<line x1="443.0" y1="255.0" x2="443.0" y2="260.0" stroke="#7d6b4c" stroke-width="0.8"/>
<g fill="none" stroke="#56812f" stroke-width="1.1"><ellipse cx="443.0" cy="250.8" rx="6.8" ry="2.1"/><circle cx="449.5" cy="251.4" r="2.8"/><circle cx="446.7" cy="252.5" r="3.1"/><circle cx="442.1" cy="252.8" r="3.5"/><circle cx="438.0" cy="252.2" r="2.8"/><circle cx="436.2" cy="250.9" r="3.1"/><circle cx="437.5" cy="249.5" r="3.5"/><circle cx="441.5" cy="248.7" r="2.8"/><circle cx="446.1" cy="248.9" r="3.1"/><circle cx="449.3" cy="249.9" r="3.5"/></g>
<g fill="#95be55"><ellipse cx="443.0" cy="250.8" rx="6.8" ry="2.1"/><circle cx="449.5" cy="251.4" r="2.8"/><circle cx="446.7" cy="252.5" r="3.1"/><circle cx="442.1" cy="252.8" r="3.5"/><circle cx="438.0" cy="252.2" r="2.8"/><circle cx="436.2" cy="250.9" r="3.1"/><circle cx="437.5" cy="249.5" r="3.5"/><circle cx="441.5" cy="248.7" r="2.8"/><circle cx="446.1" cy="248.9" r="3.1"/><circle cx="449.3" cy="249.9" r="3.5"/></g>
<line x1="443.0" y1="260.0" x2="443.0" y2="265.0" stroke="#7d6b4c" stroke-width="0.8"/>
<g fill="none" stroke="#56812f" stroke-width="1.1"><ellipse cx="443.0" cy="257.5" rx="1.9" ry="1.4"/><circle cx="444.8" cy="257.9" r="1.9"/><circle cx="443.4" cy="258.9" r="2.1"/><circle cx="441.6" cy="258.5" r="2.3"/><circle cx="441.2" cy="257.1" r="1.9"/><circle cx="442.6" cy="256.1" r="2.1"/><circle cx="444.4" cy="256.5" r="2.3"/></g>
<g fill="#95be55"><ellipse cx="443.0" cy="257.5" rx="1.9" ry="1.4"/><circle cx="444.8" cy="257.9" r="1.9"/><circle cx="443.4" cy="258.9" r="2.1"/><circle cx="441.6" cy="258.5" r="2.3"/><circle cx="441.2" cy="257.1" r="1.9"/><circle cx="442.6" cy="256.1" r="2.1"/><circle cx="444.4" cy="256.5" r="2.3"/></g>
<line x1="465.0" y1="255.0" x2="465.0" y2="260.0" stroke="#7d6b4c" stroke-width="0.8"/>
<g fill="none" stroke="#56812f" stroke-width="1.1"><ellipse cx="465.0" cy="250.8" rx="5.8" ry="2.1"/><circle cx="470.6" cy="251.4" r="2.8"/><circle cx="467.7" cy="252.6" r="3.1"/><circle cx="463.3" cy="252.8" r="3.5"/><circle cx="459.8" cy="251.7" r="2.8"/><circle cx="459.4" cy="250.1" r="3.1"/><circle cx="462.3" cy="248.9" r="3.5"/><circle cx="466.7" cy="248.7" r="2.8"/><circle cx="470.2" cy="249.8" r="3.1"/></g>
<g fill="#95be55"><ellipse cx="465.0" cy="250.8" rx="5.8" ry="2.1"/><circle cx="470.6" cy="251.4" r="2.8"/><circle cx="467.7" cy="252.6" r="3.1"/><circle cx="463.3" cy="252.8" r="3.5"/><circle cx="459.8" cy="251.7" r="2.8"/><circle cx="459.4" cy="250.1" r="3.1"/><circle cx="462.3" cy="248.9" r="3.5"/><circle cx="466.7" cy="248.7" r="2.8"/><circle cx="470.2" cy="249.8" r="3.1"/></g>
<line x1="478.0" y1="255.0" x2="478.0" y2="260.0" stroke="#7d6b4c" stroke-width="0.8"/>
<g fill="none" stroke="#a9c98a" stroke-width="1.1"><ellipse cx="478.0" cy="251.0" rx="3.0" ry="2.0"/><circle cx="480.9" cy="251.6" r="2.7"/><circle cx="478.7" cy="253.0" r="3.0"/><circle cx="475.8" cy="252.4" r="3.3"/><circle cx="475.1" cy="250.4" r="2.7"/><circle cx="477.3" cy="249.0" r="3.0"/><circle cx="480.2" cy="249.6" r="3.3"/></g>
<g fill="#c8e0aa"><ellipse cx="478.0" cy="251.0" rx="3.0" ry="2.0"/><circle cx="480.9" cy="251.6" r="2.7"/><circle cx="478.7" cy="253.0" r="3.0"/><circle cx="475.8" cy="252.4" r="3.3"/><circle cx="475.1" cy="250.4" r="2.7"/><circle cx="477.3" cy="249.0" r="3.0"/><circle cx="480.2" cy="249.6" r="3.3"/></g>
<line x1="479.5" y1="259.0" x2="479.5" y2="264.0" stroke="#7d6b4c" stroke-width="0.8"/>
<g fill="none" stroke="#56812f" stroke-width="1.1"><ellipse cx="479.5" cy="256.5" rx="2.4" ry="1.4"/><circle cx="481.8" cy="256.9" r="1.9"/><circle cx="480.0" cy="257.9" r="2.1"/><circle cx="477.7" cy="257.5" r="2.3"/><circle cx="477.2" cy="256.1" r="1.9"/><circle cx="479.0" cy="255.1" r="2.1"/><circle cx="481.3" cy="255.5" r="2.3"/></g>
<g fill="#95be55"><ellipse cx="479.5" cy="256.5" rx="2.4" ry="1.4"/><circle cx="481.8" cy="256.9" r="1.9"/><circle cx="480.0" cy="257.9" r="2.1"/><circle cx="477.7" cy="257.5" r="2.3"/><circle cx="477.2" cy="256.1" r="1.9"/><circle cx="479.0" cy="255.1" r="2.1"/><circle cx="481.3" cy="255.5" r="2.3"/></g>
<line x1="87.0" y1="263.4" x2="340.0" y2="263.4" stroke="#8e8e8e" stroke-width="1.3"/>
<line x1="341.0" y1="263.4" x2="600.0" y2="263.4" stroke="#909090" stroke-width="1.1"/>
<path d="M 139.3 264 L 139.3 274.3 L 256.4 274.3 L 279 263.8" fill="none" stroke="#555" stroke-width="1.2"/>
<rect x="140.0" y="264.5" width="116.0" height="9.0" fill="#f2f2f2"/>
<path d="M 143.0 273 L 143.0 271.2 Q 145.4 269.2 147.8 271.2 L 147.8 273 Z" fill="#c6c6c6"/>
<path d="M 150.1 273 L 150.1 271.2 Q 152.5 269.2 154.9 271.2 L 154.9 273 Z" fill="#c6c6c6"/>
<path d="M 157.2 273 L 157.2 271.2 Q 159.6 269.2 162.0 271.2 L 162.0 273 Z" fill="#c6c6c6"/>
<path d="M 164.3 273 L 164.3 271.2 Q 166.7 269.2 169.1 271.2 L 169.1 273 Z" fill="#c6c6c6"/>
<path d="M 171.4 273 L 171.4 271.2 Q 173.8 269.2 176.2 271.2 L 176.2 273 Z" fill="#c6c6c6"/>
<path d="M 178.5 273 L 178.5 271.2 Q 180.9 269.2 183.3 271.2 L 183.3 273 Z" fill="#c6c6c6"/>
<path d="M 185.6 273 L 185.6 271.2 Q 188.0 269.2 190.4 271.2 L 190.4 273 Z" fill="#c6c6c6"/>
<path d="M 192.7 273 L 192.7 271.2 Q 195.1 269.2 197.5 271.2 L 197.5 273 Z" fill="#c6c6c6"/>
<path d="M 199.8 273 L 199.8 271.2 Q 202.2 269.2 204.6 271.2 L 204.6 273 Z" fill="#c6c6c6"/>
<path d="M 206.9 273 L 206.9 271.2 Q 209.3 269.2 211.7 271.2 L 211.7 273 Z" fill="#c6c6c6"/>
<path d="M 214.0 273 L 214.0 271.2 Q 216.4 269.2 218.8 271.2 L 218.8 273 Z" fill="#c6c6c6"/>
<path d="M 221.1 273 L 221.1 271.2 Q 223.5 269.2 225.9 271.2 L 225.9 273 Z" fill="#c6c6c6"/>
<path d="M 228.2 273 L 228.2 271.2 Q 230.6 269.2 233.0 271.2 L 233.0 273 Z" fill="#c6c6c6"/>
<path d="M 235.3 273 L 235.3 271.2 Q 237.7 269.2 240.1 271.2 L 240.1 273 Z" fill="#c6c6c6"/>
<path d="M 242.4 273 L 242.4 271.2 Q 244.8 269.2 247.2 271.2 L 247.2 273 Z" fill="#c6c6c6"/>
<path d="M 249.5 273 L 249.5 271.2 Q 251.9 269.2 254.3 271.2 L 254.3 273 Z" fill="#c6c6c6"/>
<path d="M 320.6 263.4 L 330.9 268.9 L 350.6 268.9 L 360 274 L 393.4 274 L 416.6 263" fill="none" stroke="#555" stroke-width="1.2"/>
<path d="M 330.9 268.9 L 350.6 268.9 L 360 274 L 393.4 274 L 414 264 L 323 264 Z" fill="#f3f3f3"/>
<line x1="395.0" y1="272.8" x2="417.0" y2="263.8" stroke="#777" stroke-width="0.7"/>
<path d="M 362.0 273 L 362.0 271.4 Q 364.3 269.6 366.6 271.4 L 366.6 273 Z" fill="#cfcfcf"/>
<path d="M 369.5 273 L 369.5 271.4 Q 371.8 269.6 374.1 271.4 L 374.1 273 Z" fill="#cfcfcf"/>
<path d="M 377.0 273 L 377.0 271.4 Q 379.3 269.6 381.6 271.4 L 381.6 273 Z" fill="#cfcfcf"/>
<path d="M 384.5 273 L 384.5 271.4 Q 386.8 269.6 389.1 271.4 L 389.1 273 Z" fill="#cfcfcf"/>
<path d="M 416 263.6 L 518.3 263.6 L 518.3 273.8 L 393.4 273.8" fill="none" stroke="#555" stroke-width="1.1"/>
<rect x="405.0" y="264.3" width="113.0" height="9.0" fill="#f0f0f0"/>
<path d="M 423.0 273 L 423.0 271.2 Q 425.4 269.2 427.8 271.2 L 427.8 273 Z" fill="#c6c6c6"/>
<path d="M 430.0 273 L 430.0 271.2 Q 432.4 269.2 434.8 271.2 L 434.8 273 Z" fill="#c6c6c6"/>
<path d="M 437.0 273 L 437.0 271.2 Q 439.4 269.2 441.8 271.2 L 441.8 273 Z" fill="#c6c6c6"/>
<path d="M 444.0 273 L 444.0 271.2 Q 446.4 269.2 448.8 271.2 L 448.8 273 Z" fill="#c6c6c6"/>
<path d="M 451.0 273 L 451.0 271.2 Q 453.4 269.2 455.8 271.2 L 455.8 273 Z" fill="#c6c6c6"/>
<path d="M 458.0 273 L 458.0 271.2 Q 460.4 269.2 462.8 271.2 L 462.8 273 Z" fill="#c6c6c6"/>
<path d="M 465.0 273 L 465.0 271.2 Q 467.4 269.2 469.8 271.2 L 469.8 273 Z" fill="#c6c6c6"/>
<path d="M 472.0 273 L 472.0 271.2 Q 474.4 269.2 476.8 271.2 L 476.8 273 Z" fill="#c6c6c6"/>
<path d="M 479.0 273 L 479.0 271.2 Q 481.4 269.2 483.8 271.2 L 483.8 273 Z" fill="#c6c6c6"/>
<path d="M 486.0 273 L 486.0 271.2 Q 488.4 269.2 490.8 271.2 L 490.8 273 Z" fill="#c6c6c6"/>
<path d="M 493.0 273 L 493.0 271.2 Q 495.4 269.2 497.8 271.2 L 497.8 273 Z" fill="#c6c6c6"/>
<path d="M 500.0 273 L 500.0 271.2 Q 502.4 269.2 504.8 271.2 L 504.8 273 Z" fill="#c6c6c6"/>
<path d="M 507.0 273 L 507.0 271.2 Q 509.4 269.2 511.8 271.2 L 511.8 273 Z" fill="#c6c6c6"/>
<line x1="518.3" y1="263.6" x2="600.0" y2="263.6" stroke="#6f6f6f" stroke-width="1.3"/>
<path d="M 112 259.3 C 122 250, 133 246, 143 246.5 C 148 246.8, 152 247.5, 156 248.6" fill="none" stroke="#c9262c" stroke-width="1.9"/>
<path d="M 155 248.3 C 160 249.8, 165 251.5, 172 254.5" fill="none" stroke="#8ccbe0" stroke-width="1.3"/>
<line x1="172.0" y1="261.6" x2="213.0" y2="261.6" stroke="#7fbfd6" stroke-width="1.2"/>
<path d="M 197 256 C 210 246, 218 236, 217 222 C 216 208, 213 195, 211 184" fill="none" stroke="#c9262c" stroke-width="2.2"/>
<path d="M 205.3 186.7 L 211 182.5 L 215.8 188.9" fill="none" stroke="#c9262c" stroke-width="1.9"/>
<path d="M 198 222 C 205 218, 209 210, 211 200" fill="none" stroke="#d2455a" stroke-width="0.7"/>
<path d="M 198 230 C 206 226, 211 214, 212 202" fill="none" stroke="#d2455a" stroke-width="0.7"/>
<path d="M 198 226 C 204 222, 210 212, 212 201" fill="none" stroke="#e07080" stroke-width="0.7"/>
<path d="M 290 222 C 300 220, 308 212, 307.6 202 C 307.3 195, 306 189, 305.2 184" fill="none" stroke="#c63a48" stroke-width="1.1"/>
<path d="M 290 230 C 302 228, 309.5 214, 309 202 C 308.7 195, 307 189, 305.6 184" fill="none" stroke="#c63a48" stroke-width="1.1"/>
<path d="M 301.5 188.1 L 305.2 182.7 L 309.4 185.7" fill="none" stroke="#c9262c" stroke-width="1.7"/>
<path d="M 317.3 184 C 318 200, 322 215, 332 226 C 345 238, 375 250, 399 253" fill="none" stroke="#f4b59e" stroke-width="4.0"/>
<path d="M 317.3 184 C 318 200, 322 215, 332 226 C 345 238, 375 250, 399 253" fill="none" stroke="#a5222a" stroke-width="2.3"/>
<path d="M 312.4 187.5 L 317.3 182.7 L 322.7 188.7" fill="none" stroke="#c9262c" stroke-width="1.8"/>
<path d="M 342 209.0 C 335 208.5, 328 206.0, 323 202.5" fill="none" stroke="#96cbd8" stroke-width="0.7"/>
<path d="M 342 213.0 C 335 212.5, 328 208.2, 323 203.3" fill="none" stroke="#96cbd8" stroke-width="0.7"/>
<path d="M 342 217.0 C 335 216.5, 328 210.4, 323 204.1" fill="none" stroke="#96cbd8" stroke-width="0.7"/>
<path d="M 342 221.0 C 335 220.5, 328 212.6, 323 204.9" fill="none" stroke="#96cbd8" stroke-width="0.7"/>
<path d="M 139 216.0 C 133 217.0, 128 219.0, 123 221.0" fill="none" stroke="#9fd4e4" stroke-width="0.7"/>
<path d="M 139 221.0 C 133 222.0, 128 224.0, 123 226.0" fill="none" stroke="#9fd4e4" stroke-width="0.7"/>
<path d="M 139 226.0 C 133 227.0, 128 229.0, 123 231.0" fill="none" stroke="#9fd4e4" stroke-width="0.7"/>
<path d="M 399 253 C 420 249, 450 243, 472 241" fill="none" stroke="#8ccbe0" stroke-width="1.0"/>
<path d="M 472 241 C 495 239, 515 243, 533 255" fill="none" stroke="#c9262c" stroke-width="1.4"/>
<path d="M 492 225 C 500 235, 515 247, 531 254" fill="none" stroke="#c9262c" stroke-width="1.4"/>
<path d="M 492 224 C 500 215, 510 212, 515 203" fill="none" stroke="#6cbdd4" stroke-width="1.1"/>
<line x1="514.7" y1="202.0" x2="514.7" y2="189.5" stroke="#c9262c" stroke-width="1.8"/>
<path d="M 510.1 193.1 L 514.7 188.3 L 519.5 193.1" fill="none" stroke="#c9262c" stroke-width="1.7"/>
<line x1="61.5" y1="203.6" x2="137.5" y2="203.6" stroke="#6e6e6e" stroke-width="0.85" stroke-dasharray="2.4 1.9"/>
<line x1="61.5" y1="221.8" x2="127.0" y2="221.8" stroke="#6e6e6e" stroke-width="0.85" stroke-dasharray="2.4 1.9"/>
<line x1="61.5" y1="231.7" x2="141.0" y2="231.7" stroke="#6e6e6e" stroke-width="0.85" stroke-dasharray="2.4 1.9"/>
<line x1="62.0" y1="261.6" x2="169.5" y2="261.6" stroke="#6e6e6e" stroke-width="0.85" stroke-dasharray="2.4 1.9"/>
<circle cx="139.6" cy="203.6" r="1.7" fill="#fff" stroke="#444" stroke-width="0.8"/>
<circle cx="129.0" cy="221.6" r="1.8" fill="#fff" stroke="#555" stroke-width="0.8"/>
<circle cx="143.0" cy="231.8" r="1.7" fill="#fff" stroke="#444" stroke-width="0.8"/>
<circle cx="171.0" cy="261.6" r="1.6" fill="#fff" stroke="#444" stroke-width="0.8"/>
<line x1="592.0" y1="197.7" x2="621.0" y2="197.7" stroke="#6e6e6e" stroke-width="0.85" stroke-dasharray="2.4 1.9"/>
<line x1="519.0" y1="224.6" x2="621.0" y2="224.6" stroke="#6e6e6e" stroke-width="0.85" stroke-dasharray="2.4 1.9"/>
<circle cx="492.0" cy="224.5" r="1.8" fill="#fff" stroke="#444" stroke-width="0.8"/>
<line x1="513.0" y1="256.0" x2="621.0" y2="256.0" stroke="#6e6e6e" stroke-width="0.85" stroke-dasharray="2.4 1.9"/>
<circle cx="510.8" cy="256.0" r="1.8" fill="#fff" stroke="#444" stroke-width="0.8"/>
<line x1="571.0" y1="287.0" x2="621.0" y2="287.0" stroke="#6e6e6e" stroke-width="0.85" stroke-dasharray="2.4 1.9"/>
<text x="59.5" y="205.5" font-size="4.6" text-anchor="end" fill="#4a4a4a" font-weight="normal" font-style="normal" textLength="42.7" lengthAdjust="spacingAndGlyphs">FILTERED DAYLIGHT</text>
<text x="59.5" y="211.2" font-size="4.6" text-anchor="end" fill="#4a4a4a" font-weight="normal" font-style="normal" textLength="35.0" lengthAdjust="spacingAndGlyphs">THROUGH ROOF</text>
<text x="59.5" y="223.6" font-size="4.6" text-anchor="end" fill="#4a4a4a" font-weight="normal" font-style="normal" textLength="43.9" lengthAdjust="spacingAndGlyphs">CROSS VENTILATION</text>
<text x="59.5" y="233.6" font-size="4.6" text-anchor="end" fill="#4a4a4a" font-weight="normal" font-style="normal" textLength="37.2" lengthAdjust="spacingAndGlyphs">RADIANT FLOORS</text>
<text x="15.1" y="263.5" font-size="4.6" text-anchor="start" fill="#4a4a4a" font-weight="normal" font-style="normal" textLength="44.4" lengthAdjust="spacingAndGlyphs">LOCAL EVAPORATION</text>
<text x="15.1" y="269.0" font-size="4.6" text-anchor="start" fill="#4a4a4a" font-weight="normal" font-style="normal" textLength="44.4" lengthAdjust="spacingAndGlyphs">AT WATER FEATURES</text>
<text x="623.3" y="200.3" font-size="4.6" text-anchor="start" fill="#4a4a4a" font-weight="normal" font-style="normal" textLength="58.5" lengthAdjust="spacingAndGlyphs">HIGH PERFORMANCE ROOF</text>
<text x="623.3" y="205.5" font-size="4.6" text-anchor="start" fill="#4a4a4a" font-weight="normal" font-style="normal" textLength="51.4" lengthAdjust="spacingAndGlyphs">WITH PV SOLAR PANELS</text>
<text x="623.3" y="226.8" font-size="4.6" text-anchor="start" fill="#4a4a4a" font-weight="normal" font-style="normal" textLength="71.6" lengthAdjust="spacingAndGlyphs">PASSIVELY COOLED COURTYARDS</text>
<text x="623.3" y="257.8" font-size="4.6" text-anchor="start" fill="#4a4a4a" font-weight="normal" font-style="normal" textLength="45.7" lengthAdjust="spacingAndGlyphs">HIGH PERFORMANCE</text>
<text x="623.3" y="263.2" font-size="4.6" text-anchor="start" fill="#4a4a4a" font-weight="normal" font-style="normal" textLength="19.0" lengthAdjust="spacingAndGlyphs">GLAZING</text>
<text x="623.3" y="289.0" font-size="4.6" text-anchor="start" fill="#4a4a4a" font-weight="normal" font-style="normal" textLength="64.3" lengthAdjust="spacingAndGlyphs">RAINWATER AND GREYWATER</text>
<text x="623.3" y="294.5" font-size="4.6" text-anchor="start" fill="#4a4a4a" font-weight="normal" font-style="normal" textLength="72.5" lengthAdjust="spacingAndGlyphs">USED FOR IRRIGATION OF "OASIS"</text>
<text x="623.3" y="299.9" font-size="4.6" text-anchor="start" fill="#4a4a4a" font-weight="normal" font-style="normal" textLength="67.6" lengthAdjust="spacingAndGlyphs">PLANTS AND WATER FEATURES</text>
<line x1="553.9" y1="206.0" x2="553.9" y2="280.0" stroke="#78bcc5" stroke-width="1.4" stroke-dasharray="2.3 2.4"/>
<line x1="544.0" y1="206.0" x2="544.0" y2="263.0" stroke="#e6e6e6" stroke-width="0.8"/>
<line x1="437.9" y1="265.0" x2="437.9" y2="284.2" stroke="#78bcc5" stroke-width="1.4" stroke-dasharray="2.3 2.4"/>
<path d="M 435.7 266.0 L 437.9 263.8 L 440.1 266.0" fill="none" stroke="#78bcc5" stroke-width="0.8"/>
<line x1="472.1" y1="265.0" x2="472.1" y2="284.2" stroke="#78bcc5" stroke-width="1.4" stroke-dasharray="2.3 2.4"/>
<path d="M 469.9 266.0 L 472.1 263.8 L 474.3 266.0" fill="none" stroke="#78bcc5" stroke-width="0.8"/>
<line x1="495.7" y1="265.0" x2="495.7" y2="284.2" stroke="#78bcc5" stroke-width="1.4" stroke-dasharray="2.3 2.4"/>
<path d="M 493.5 266.0 L 495.7 263.8 L 497.9 266.0" fill="none" stroke="#78bcc5" stroke-width="0.8"/>
<line x1="437.9" y1="284.2" x2="539.0" y2="284.2" stroke="#78bcc5" stroke-width="1.4" stroke-dasharray="2.3 2.4"/>
<line x1="372.5" y1="226.0" x2="372.5" y2="274.0" stroke="#a9d6dd" stroke-width="1.0" stroke-dasharray="2.3 2.4"/>
<line x1="372.5" y1="274.5" x2="372.5" y2="291.3" stroke="#78bcc5" stroke-width="1.4" stroke-dasharray="2.3 2.4"/>
<line x1="372.5" y1="291.3" x2="539.0" y2="291.3" stroke="#78bcc5" stroke-width="1.4" stroke-dasharray="2.3 2.4"/>
<path d="M 416.2 287 L 419.7 291.3 L 416.2 295.6" fill="none" stroke="#78bcc5" stroke-width="1.4"/>
<path d="M 482.3 287 L 485.8 291.3 L 482.3 295.6" fill="none" stroke="#78bcc5" stroke-width="1.4"/>
<path d="M 534.5 287 L 538.0 291.3 L 534.5 295.6" fill="none" stroke="#78bcc5" stroke-width="1.4"/>
<line x1="313.0" y1="310.8" x2="597.7" y2="310.8" stroke="#78bcc5" stroke-width="1.4" stroke-dasharray="2.3 2.4"/>
<path d="M 353.6 306.5 L 350.1 310.8 L 353.6 315.1" fill="none" stroke="#78bcc5" stroke-width="1.4"/>
<path d="M 416.4 306.5 L 412.9 310.8 L 416.4 315.1" fill="none" stroke="#78bcc5" stroke-width="1.4"/>
<path d="M 483.5 306.5 L 480.0 310.8 L 483.5 315.1" fill="none" stroke="#78bcc5" stroke-width="1.4"/>
<path d="M 548.3 306.5 L 544.8 310.8 L 548.3 315.1" fill="none" stroke="#78bcc5" stroke-width="1.4"/>
<circle cx="601.1" cy="310.6" r="3.3" fill="#fff" stroke="#78bcc5" stroke-width="1.0"/>
<line x1="298.6" y1="266.0" x2="298.6" y2="303.2" stroke="#78bcc5" stroke-width="1.4" stroke-dasharray="2.3 2.4"/>
<path d="M 296.2 266.9 L 298.6 264.5 L 301.0 266.9" fill="none" stroke="#78bcc5" stroke-width="0.9"/>
<rect x="283.4" y="303.2" width="29.3" height="14.9" fill="#fff" stroke="#a6dae2" stroke-width="0.8"/>
<path d="M 296.6 308.3 q 0.7 -0.6 1.4 0 t 1.4 0 t 1.4 0 M 296.6 310.3 q 0.7 -0.6 1.4 0 t 1.4 0 t 1.4 0 M 296.6 312.3 q 0.7 -0.6 1.4 0 t 1.4 0 t 1.4 0" fill="none" stroke="#555" stroke-width="0.6"/>
<text x="280.2" y="323.6" font-size="4.5" text-anchor="start" fill="#4a4a4a" font-weight="normal" font-style="normal" textLength="36.5" lengthAdjust="spacingAndGlyphs">COOLING TOWER</text>
<rect x="539.2" y="279.9" width="29.6" height="14.5" fill="#fff" stroke="#a6dae2" stroke-width="0.8"/>
<path d="M 539.6 286.5 q 2 -1.2 4 0 t 4 0 t 4 0 t 4 0 t 4 0 t 4 0 t 4 0 L 568.4 294 L 539.6 294 Z" fill="#d3eef4"/>
<path d="M 539.6 286.5 q 2 -1.2 4 0 t 4 0 t 4 0 t 4 0 t 4 0 t 4 0 t 4 0" fill="none" stroke="#8fcfdc" stroke-width="0.5"/>
<circle cx="568.3" cy="286.8" r="1.7" fill="#fff" stroke="#444" stroke-width="0.8"/>
<text x="538.2" y="299.8" font-size="4.5" text-anchor="start" fill="#4a4a4a" font-weight="normal" font-style="normal" textLength="31.3" lengthAdjust="spacingAndGlyphs">NON-POTABLE</text>
<text x="541.1" y="305.4" font-size="4.5" text-anchor="start" fill="#4a4a4a" font-weight="normal" font-style="normal" textLength="26.7" lengthAdjust="spacingAndGlyphs">WATER TANK</text>
<text x="420.9" y="300.5" font-size="4.5" text-anchor="start" fill="#4a4a4a" font-weight="normal" font-style="italic" textLength="60.3" lengthAdjust="spacingAndGlyphs">FROM LOW-FLOW FIXTURES</text>
<text x="433.8" y="320.7" font-size="4.5" text-anchor="start" fill="#4a4a4a" font-weight="normal" font-style="italic" textLength="35.7" lengthAdjust="spacingAndGlyphs">POTABLE WATER</text>
</svg>
</body></html>
